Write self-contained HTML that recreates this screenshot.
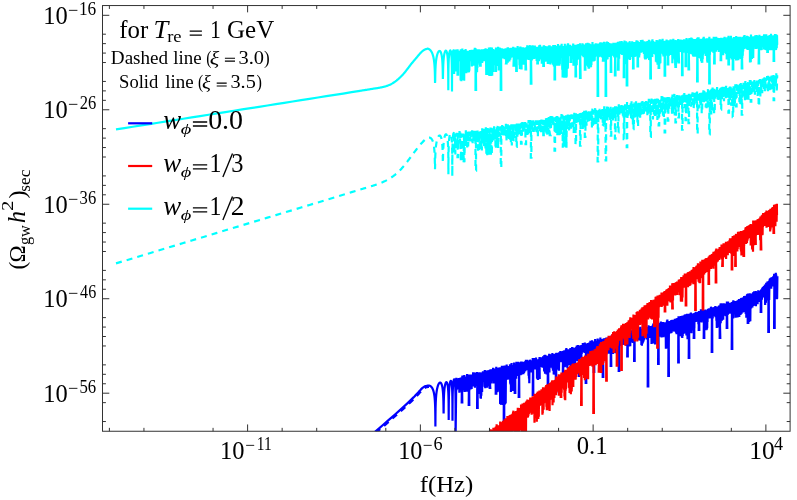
<!DOCTYPE html>
<html><head><meta charset="utf-8"><title>GW spectrum</title>
<style>html,body{margin:0;padding:0;background:#fff;}svg{display:block;will-change:transform;}text{font-family:"Liberation Serif", serif;fill:#000;}</style></head><body>
<svg width="797" height="500" viewBox="0 0 797 500">
<rect width="797" height="500" fill="#fff"/>
<defs><clipPath id="cp"><rect x="102.5" y="5.55" width="687.6" height="425.7"/></clipPath></defs>
<g clip-path="url(#cp)" fill="none" stroke-width="2.2" stroke-linejoin="miter" stroke-miterlimit="3">
<path stroke="#0000ff" d="M375 431.9L379.11 428.34L383.22 424.78L387.33 421.2L391.44 417.61L395.56 413.99L399.67 410.35L403.78 406.64L407.89 402.83L412 398.89L412.5 398.39L413 397.9L413.5 397.41L414 396.91L414.5 396.4L415 395.89L415.5 395.38L416 394.86L416.5 394.33L417 393.8L417.5 393.25L418 392.7L418.5 392.14L419 391.57L419.5 391.01L420 390.45L420.5 389.91L421 389.38L421.5 388.88L422 388.4L422.5 387.96L423 387.55L423.5 387.18L424 386.85L424.5 386.55L425 386.3L425.5 386.1L426 385.96L426.5 385.9L426.6 385.9L426.68 385.87L426.76 385.85L426.84 385.82L426.92 385.8L427 385.78L427.08 385.76L427.16 385.74L427.24 385.72L427.32 385.7L427.4 385.68L427.48 385.67L427.56 385.65L427.64 385.64L427.72 385.63L427.8 385.62L427.88 385.61L427.96 385.6L428.04 385.59L428.12 385.59L428.2 385.58L428.28 385.58L428.36 385.58L428.44 385.58L428.52 385.58L428.6 385.58L428.68 385.58L428.76 385.59L428.84 385.6L428.92 385.6L429 385.61L429.08 385.63L429.16 385.64L429.24 385.66L429.32 385.67L429.4 385.69L429.48 385.71L429.56 385.74L429.64 385.76L429.72 385.79L429.8 385.82L429.88 385.85L429.96 385.88L430.04 385.92L430.12 385.95L430.2 385.99L430.28 386.04L430.36 386.08L430.44 386.13L430.52 386.18L430.6 386.23L430.68 386.29L430.76 386.35L430.84 386.41L430.92 386.47L431 386.54L431.08 386.61L431.16 386.69L431.24 386.77L431.32 386.85L431.4 386.93L431.48 387.02L431.56 387.11L431.64 387.21L431.72 387.31L431.8 387.42L431.88 387.53L431.96 387.65L432.04 387.77L432.12 387.89L432.2 388.03L432.28 388.16L432.36 388.31L432.44 388.46L432.52 388.61L432.6 388.78L432.68 388.95L432.76 389.13L432.84 389.31L432.92 389.51L433 389.72L433.08 389.93L433.16 390.16L433.24 390.39L433.32 390.64L433.4 390.9L433.48 391.18L433.56 391.47L433.64 391.78L433.72 392.1L433.8 392.45L433.88 392.82L433.96 393.21L434.04 393.62L434.12 394.07L434.2 394.55L434.28 395.06L434.36 395.62L434.44 396.23L434.52 396.9L434.6 397.63L434.68 398.45L434.76 399.37L434.84 400.43L434.92 401.65L435 403.1L435.08 404.9L435.16 407.22L435.24 410.51L435.32 416.16L435.4 426.6L435.4 426.6L435.48 414.45L435.56 408.73L435.64 405.37L435.72 402.97L435.8 401.1L435.88 399.57L435.96 398.27L436.04 397.14L436.12 396.14L436.2 395.25L436.28 394.44L436.36 393.7L436.44 393.02L436.52 392.39L436.6 391.81L436.68 391.26L436.76 390.75L436.84 390.27L436.92 389.81L437 389.38L437.08 388.98L437.16 388.59L437.24 388.22L437.32 387.88L437.4 387.55L437.48 387.23L437.56 386.93L437.64 386.64L437.72 386.37L437.8 386.11L437.88 385.86L437.96 385.62L438.04 385.39L438.12 385.18L438.2 384.97L438.28 384.77L438.36 384.59L438.44 384.41L438.52 384.24L438.6 384.08L438.68 383.93L438.76 383.79L438.84 383.65L438.92 383.53L439 383.41L439.08 383.3L439.16 383.2L439.24 383.1L439.32 383.02L439.4 382.94L439.48 382.87L439.56 382.8L439.64 382.75L439.72 382.7L439.8 382.66L439.88 382.63L439.96 382.61L440.04 382.6L440.12 382.59L440.2 382.59L440.28 382.6L440.36 382.62L440.44 382.65L440.52 382.69L440.6 382.74L440.68 382.79L440.76 382.86L440.84 382.94L440.92 383.03L441 383.12L441.08 383.23L441.16 383.36L441.24 383.49L441.32 383.64L441.4 383.8L441.48 383.98L441.56 384.17L441.64 384.37L441.72 384.6L441.8 384.84L441.88 385.1L441.96 385.39L442.04 385.7L442.12 386.03L442.2 386.39L442.28 386.78L442.36 387.2L442.44 387.67L442.52 388.17L442.6 388.73L442.68 389.34L442.76 390.01L442.84 390.77L442.92 391.62L443 392.59L443.08 393.71L443.16 395.03L443.24 396.63L443.32 398.65L443.4 401.37L443.48 405.53L443.56 412.3L443.6 412.3L443.64 412.3L443.72 405.13L443.8 400.92L443.88 398.15L443.96 396.08L444.04 394.43L444.12 393.06L444.2 391.89L444.28 390.88L444.36 389.99L444.44 389.19L444.52 388.48L444.6 387.83L444.68 387.24L444.76 386.7L444.84 386.21L444.92 385.76L445 385.34L445.08 384.96L445.16 384.61L445.24 384.29L445.32 383.99L445.4 383.72L445.48 383.48L445.56 383.25L445.64 383.05L445.72 382.87L445.8 382.72L445.88 382.58L445.96 382.46L446.04 382.36L446.12 382.29L446.2 382.23L446.28 382.19L446.36 382.17L446.44 382.17L446.52 382.19L446.6 382.23L446.68 382.3L446.76 382.38L446.84 382.49L446.92 382.63L447 382.79L447.08 382.97L447.16 383.18L447.24 383.43L447.32 383.7L447.4 384.01L447.48 384.36L447.56 384.76L447.64 385.2L447.72 385.69L447.8 386.25L447.88 386.88L447.96 387.6L448.04 388.42L448.12 389.37L448.2 390.48L448.28 391.82L448.36 393.47L448.44 395.59L448.52 398.54L448.6 403.3L448.68 416.45L448.7 420L448.76 407.39L448.84 400.4L448.92 396.67L449 394.1L449.08 392.16L449.16 390.59L449.24 389.28L449.32 388.17L449.4 387.21L449.48 386.36L449.56 385.61L449.64 384.95L449.72 384.35L449.8 383.82L449.88 383.34L449.96 382.92L450.04 382.54L450.12 382.21L450.2 381.92L450.28 381.67L450.36 381.45L450.44 381.27L450.52 381.13L450.6 381.02L450.68 380.95L450.76 380.92L450.84 380.92L450.92 380.95L451 381.03L451.08 381.15L451.16 381.31L451.24 381.51L451.32 381.77L451.4 382.08L451.48 382.44L451.56 382.87L451.64 383.38L451.72 383.97L451.8 384.66L451.88 385.48L451.96 386.45L452.04 387.61L452.12 389.04L452.2 390.86L452.28 393.3L452.36 396.92L452.44 403.79L452.5 420.7L452.52 412.95L452.6 399.7L452.68 394.84L452.76 391.81L452.84 389.6L452.92 387.89L453 386.49L453.08 385.32L453.16 384.32L453.24 383.47L453.32 382.73L453.4 382.08L453.48 381.53L453.56 381.05L453.64 380.64L453.72 380.29L453.8 380L453.88 379.77L453.96 379.6L454.04 379.48L454.12 379.41L454.2 379.4L454.28 379.45L454.36 379.55L454.44 379.72L454.52 379.95L454.6 380.24L454.68 380.62L454.76 381.08L454.84 381.64L454.92 382.31L455 383.12L455.08 384.09L455.16 385.29L455.24 386.78L455.32 388.71L455.4 391.36L455.48 395.46L455.56 404.41L455.6 433L455.64 433L456.3 377.77L456.57 390.33L456.74 379.77L456.87 388.39L457.06 380.07L457.33 389.07L457.45 379.71L457.68 389.19L457.92 379.69L458.09 389.24L458.22 378.46L458.56 388.49L458.76 377.96L458.87 388.12L459.12 378.95L459.38 392.8L459.56 378.78L459.63 391.84L459.87 378.59L460.07 389L460.36 378.88L460.52 391.43L460.64 377.53L460.82 389.05L461.18 378.66L461.25 389.52L461.49 378.31L461.68 386.47L461.96 377.29L461.7 402.4L462.3 402.4L462.09 388.37L462.36 375.68L462.54 390.41L462.65 375.47L462.92 390.12L463.05 377.78L463.24 389.26L463.56 378.19L463.7 390.46L463.85 376.71L464.11 388.85L464.32 375.03L464.55 392.03L464.73 376.52L464.92 386.65L465.06 378.09L465.27 391.81L465.51 377.54L465.69 389.58L465.91 377.21L466.18 388.74L466.37 377.75L466.51 388.81L466.76 376.51L466.96 390.98L467.07 373.91L467.24 391.68L467.5 375.51L467.77 383.87L467.85 376.36L468.07 388.17L468.38 375.56L468.45 387.35L468.78 374.54L468.87 390.67L468.7 405L469.3 405L469.13 375.88L469.38 390.4L469.47 376.32L469.7 388.19L469.99 375.93L470.07 385.49L470.26 376.03L470.54 389.38L470.77 374.5L470.91 384.49L471.05 374.4L471.33 387.37L471.45 374.7L471.64 389.02L471.89 374.4L472.18 383.93L472.36 374.67L472.5 384.58L472.65 374.81L472.86 386.56L473.12 372.3L473.32 384.81L473.52 372.17L473.66 385.47L473.96 374.25L474.13 383.07L474.36 375.05L474.51 385.46L474.65 374.86L474.93 387.77L475.11 373.34L475.24 384.22L475.45 372.61L475.71 385.69L475.98 374.64L476.11 383.53L476.34 374.41L476.53 382.15L476.68 374.59L476.89 383.88L477.04 372.09L477.26 381.52L477.1 408L477.7 408L477.52 373.69L477.74 383.21L477.86 372.71L478.15 380.54L478.34 372.6L478.59 382.53L478.78 373.08L478.92 392.43L479.14 374.81L479.26 393.92L479.59 372.32L479.79 389.8L479.93 372.57L480.09 393.97L480.34 374.94L480.51 398.12L480.74 373.6L480.91 398.85L481.09 372.44L481.31 395.64L481.58 374.52L481.78 389.16L481.89 372.92L482.1 391.91L482.32 373.9L482.51 381.06L482.7 371.68L482.93 379.79L483.06 371.34L483.25 381.32L483.48 372.01L483.8 379.49L483.97 372.28L484.13 381.98L484.27 372.37L484.61 386.61L484.79 370.12L485 387.26L485.14 372.37L485.29 388.21L485.48 371.35L485.77 387.23L485.87 370.56L486.14 386.83L486.37 371.84L486.54 382.25L486.78 372.41L487 385.92L487.06 371.12L487.27 387.69L487.47 371.53L487.7 382.03L487.94 370.22L488.12 384.98L488.32 370.59L488.56 386.17L488.67 371.34L488.87 381.15L489.07 370.72L489.39 380.41L489.51 369.97L489.75 382.86L490 369.53L489.7 388L490.3 388L490.08 384.93L490.26 370.13L490.49 380.36L490.71 370.64L490.94 380.63L491.09 369.34L491.37 380.69L491.55 370.94L491.78 383.44L491.88 370.66L492.09 381.31L492.36 369.22L492.52 379.38L492.81 368.99L492.98 379.34L493.08 367.75L493.27 379.09L493.51 368.81L493.78 378.52L493.95 370.27L494.09 383.53L494.26 369.79L494.54 380.69L494.81 369.24L494.95 383.38L495.21 368.47L495.33 379.51L495.62 368.9L495.74 393.91L495.99 369.65L495.7 393.6L496.3 393.6L496.1 388.92L496.27 366.87L496.57 387.83L496.68 368.68L496.99 391.75L497.21 369.79L497.31 392.27L497.51 367.76L497.75 391.83L497.97 369.96L498.07 390.56L498.36 367.7L498.49 384.54L498.67 370.13L498.91 389.26L499.13 367.49L499.32 382.49L499.58 367.76L499.74 384.16L499.92 368.76L500.14 403.95L500.35 367.26L500.59 403.92L500.72 368.81L500.99 404.87L501.17 367.81L501.4 403.96L501.53 368.41L501.69 404.44L501.88 365.66L502.15 404.97L502.42 368.67L502.51 403.04L502.73 367.84L502.99 404.58L503.13 366.65L503.41 403.61L503.47 367.1L503.81 403.27L503.91 365.69L503.7 427L504.3 427L504.22 403.19L504.39 366.78L504.6 403.01L504.74 365.46L504.91 404.51L505.12 366.82L505.41 403.25L505.53 367.22L505.67 403.42L505.97 367.53L506.17 375.21L506.36 366.81L506.48 379.08L506.7 364.57L506.99 379.17L507.16 367.18L507.38 375.83L507.48 365.9L507.76 379.62L507.91 366L508.1 375.77L508.29 366.95L508.48 379.02L508.71 366.53L508.99 375.62L509.16 366.37L509.36 377.62L509.53 366.55L509.71 376.17L509.96 364.27L510.2 383.55L510.35 367.78L510.48 384.55L510.82 367.92L510.95 392.06L511.09 366.85L511.41 386.22L511.53 362.98L511.69 388.02L512.02 365.01L512.13 385.43L512.31 365.16L512.55 388.2L512.68 366.53L512.91 391.07L513.18 366.45L513.33 388.54L513.48 365.69L513.72 386.03L514.03 362.45L514.19 384.51L514.37 365.2L514.48 375.74L514.83 363.84L514.96 376.25L514.7 393L515.3 393L515.16 365L515.4 377.48L515.59 363.78L515.81 372.87L515.9 363.59L516.17 378.82L516.41 361.76L516.53 375.47L516.7 365.01L516.91 374.86L517.1 361.9L517.35 376.03L517.57 364.81L517.69 373.56L517.88 363.61L518.09 374.32L518.32 361.73L518.53 374.11L518.8 363.1L519 374.44L518.7 397L519.3 397L519.1 363.65L519.36 370.62L519.58 363.98L519.81 371.92L519.94 362.58L520.13 372.14L520.35 363.07L520.55 375.18L520.78 362.39L521.04 372.31L521.18 361.5L521.38 374.67L521.57 361.4L521.74 372.93L522.02 362.37L522.11 371.03L522.4 362.66L522.6 371.94L522.69 361.86L522.96 374.04L523.2 362.8L523.37 374.16L523.54 362.38L523.73 371.03L523.89 361.67L524.1 372.87L524.44 361.68L524.58 368.66L524.81 362.29L524.89 371.51L525.1 361.38L525.35 371.39L525.62 361.75L525.73 368.41L525.92 359.79L526.22 369.02L526.43 361.68L526.64 370.29L526.7 362.02L526.96 369.33L527.12 359.84L527.42 369.7L527.54 360.73L527.72 368.87L528.02 360.61L528.16 369.96L528.3 361.34L528.55 375.85L528.77 361.57L529 378.56L529.14 362.4L529.29 383.27L529.58 360.94L529.82 369.78L529.92 359.64L530.19 372.48L530.41 360.86L530.64 369.61L530.7 361.07L531 372.42L531.18 360.69L531.32 369.92L531.56 360.64L531.69 371.3L531.89 360.67L532.09 369.27L532.36 360.06L532.58 367.64L532.73 358.1L532.97 369.88L532.7 395L533.3 395L533.17 359.62L533.34 367.45L533.56 359.54L533.77 367.24L533.96 360.06L534.1 368.89L534.41 359.74L534.61 367.48L534.74 357.89L534.97 369.38L535.21 359.53L535.31 367.92L535.63 359.87L535.81 368.12L536.05 357.43L536.17 368.74L536.34 359.73L536.52 366.35L536.83 360.18L537.01 378.77L537.16 360.53L537.33 375.31L537.62 359.27L537.85 379.95L538.04 359.23L538.14 379.86L538.4 359.29L538.58 376.53L538.71 360.03L538.98 365.33L539.24 358.79L539.3 365.07L539.1 378L539.7 378L539.51 357.04L539.75 365.44L539.9 358.24L540.13 366.03L540.44 357.69L540.53 366.13L540.8 358.57L541 366.97L541.13 357.27L541.4 366.25L541.52 357.62L541.81 365.33L542.05 357.59L542.15 364.71L542.31 357.47L542.51 367.79L542.81 357.89L542.98 366.83L543.1 356.3L543.37 365.14L543.64 357.08L543.76 367.34L543.97 356.98L544.15 371.47L544.37 355.13L544.53 368.73L544.72 357.39L545.05 373.69L545.18 354.79L545.35 368.46L545.54 357.06L545.82 370.33L545.95 355.44L546.22 367.55L546.34 356.86L546.57 374.38L546.83 356.22L547.04 368.65L547.25 356.19L547.38 369.84L547.62 357.2L547.77 370.31L547.92 355.73L547.7 385L548.3 385L548.19 368.07L548.36 356.86L548.52 369.42L548.76 355.43L548.96 369.08L549.2 353.66L549.43 372.39L549.6 353.98L549.79 364.91L549.93 355.61L550.12 364.6L550.34 355.86L550.62 367.31L550.75 355.41L551.03 367.66L551.21 354.39L551.44 364.08L551.56 355.82L551.83 365.95L552 354.39L552.15 364.3L552.39 353.01L552.66 368.88L552.84 354.52L552.92 370.63L553.13 355.49L553.31 368.96L553.54 354.06L553.74 374.61L554.05 354.31L554.15 369.35L554.38 354.31L554.55 362.17L554.79 353.97L555.07 364.26L555.24 353.89L555.31 362.33L555.66 354.14L555.74 362.81L555.95 353.46L555.7 392L556.3 392L556.14 363.84L556.45 352.79L556.63 359.61L556.81 353.43L556.99 360.01L557.17 353.26L557.47 360.5L557.57 353.52L557.76 369.29L558.03 353.71L558.26 365.48L558.38 353.44L558.57 370.3L558.74 352.64L558.98 370.7L559.21 352.15L559.42 361.97L559.56 352.33L559.72 359.19L559.96 352.54L560.19 360.18L560.32 351.11L560.52 360.87L560.86 351.97L560.92 361.91L561.12 352.13L561.4 362.15L561.55 351.14L561.78 359.04L561.98 351.91L562.27 359.97L562.43 351.15L562.65 359.35L562.8 351.42L562.93 361.78L562.7 381L563.3 381L563.2 351.1L563.33 367.27L563.62 350.71L563.75 362.92L564 351.48L564.18 365.17L564.38 350.31L564.68 367.18L564.87 351.46L564.98 362.91L565.2 351.31L565.34 366.61L565.57 350.23L565.87 365.67L565.92 349.24L566.21 363.42L566.35 348.01L566.56 362.59L566.81 350.68L566.96 361.97L567.25 349.37L567.4 368.33L567.64 350.35L567.78 363.64L567.99 350.55L568.21 360.7L568.46 350.06L568.6 361.14L568.88 350.08L568.99 365.13L569.17 349.33L569.45 361.78L569.57 349.81L569.87 360.16L569.99 349.53L570.21 360.77L570.36 347.97L570.59 361.71L570.87 349.79L570.96 361.78L570.7 388L571.3 388L571.13 348.27L571.43 363.22L571.67 348.55L571.74 361.72L572.08 346.97L572.15 355.3L572.35 348.76L572.67 356.59L572.77 348.55L573.05 357.75L573.21 347.5L573.48 368.35L573.62 349.55L573.76 371.43L574.02 350.14L574.29 372.75L574.41 349.17L574.56 371.25L574.89 349.64L575.04 370.05L575.22 348L575.42 360.68L575.6 347.8L575.75 356.85L575.94 347.3L576.16 357.05L576.37 346.67L576.6 358.49L576.81 345.4L576.97 360.01L577.24 347.73L577.45 361.17L577.63 347.12L577.83 359.75L577.94 345.12L578.19 355.36L578.39 345.74L578.55 355.81L578.8 346.8L578.98 354.65L578.7 376L579.3 376L579.27 346.83L579.43 358.27L579.59 346.84L579.78 355.63L579.96 346.18L580.17 354.84L580.42 345.19L580.58 356.99L580.77 346.39L580.97 358.7L581.19 345.53L581.35 356.9L581.59 345.1L581.75 353.98L582.01 345.88L582.28 352.3L582.39 345.69L582.69 352.14L582.81 342.97L583.01 351.72L583.16 342.95L583.45 351.54L583.69 344.33L583.77 351.7L583.96 343.48L584.19 350.56L584.44 344.09L584.59 352.93L584.82 342.55L585.03 351.59L585.3 344.32L585.5 351.18L585.7 343.7L585.87 353.55L585.7 383L586.3 383L586 344.24L586.18 353.88L586.37 343.71L586.63 350.72L586.86 344.08L586.95 356.11L587.21 344.02L587.44 354.39L587.57 342.93L587.82 355.22L588.03 343.68L588.2 352.8L588.42 343.21L588.6 351.97L588.76 343.29L588.96 356.78L589.23 342.44L589.5 355.86L589.56 343.12L589.88 354.51L589.98 342.6L590.3 351.88L590.39 340.81L590.7 354.64L590.9 341.09L590.98 352.18L591.28 341.26L591.4 352.7L591.57 342.77L591.79 352.23L592.03 340.3L592.28 353.56L592.39 342.8L592.6 352.7L592.88 341.98L593 353.61L593.23 341.44L593.36 349.67L593.65 342.42L593.85 351.68L593.7 372L594.3 372L594.05 342.39L594.2 356.69L594.43 342.23L594.62 352.25L594.81 340.71L594.99 350.79L595.16 339.09L595.39 354.28L595.58 341.83L595.79 356.99L595.96 341.13L596.22 353.81L596.42 340.72L596.67 354.63L596.84 341.47L596.97 354.61L597.22 341.23L597.36 353.68L597.63 338.56L597.76 352.38L598.1 341.81L598.25 354.71L598.45 341.05L598.68 355.31L598.76 340.65L599.01 353.31L599.26 340.89L599.41 354.22L599.59 339.46L599.78 351.51L600.1 339.78L600.24 351.29L600.36 337.48L600.69 353.71L600.85 339.07L601.08 357.42L601.25 339.66L601.39 353.78L601.71 340.02L601.91 359.05L602.09 339.62L602.17 356.96L602.37 339.81L602.61 346.18L602.82 339.48L602.7 377L603.3 377L603.1 347.91L603.17 338.86L603.39 347.89L603.71 338.71L603.83 346.56L604.09 338.19L604.28 347.02L604.37 338.41L604.66 349.52L604.82 338.56L604.97 345.46L605.31 338.21L605.43 348.69L605.64 338.01L605.79 345.72L606.04 338.21L606.23 354.78L606.4 337.4L606.68 349.51L606.82 338.68L606.97 351.94L607.31 339.09L607.52 348.36L607.58 338.49L607.92 348.56L608.05 338.08L608.18 352.18L608.37 337.32L608.56 349.05L608.8 337.38L609.07 353.71L609.18 337.88L609.44 352.47L609.57 337.45L609.92 349.48L610.02 336.77L610.26 347.25L610.46 336.87L610.57 352.91L610.77 336.93L610.7 366L611.3 366L611.05 345.48L611.18 337.4L611.49 348.76L611.6 335.41L611.86 349.49L612.09 336.45L612.22 348.77L612.47 334.62L612.67 350.61L612.85 335.64L613.04 353.97L613.27 337.67L613.45 350.14L613.6 334.24L613.87 347.68L614.02 336.06L614.32 346.71L614.39 337.36L614.69 347.39L614.9 336.48L615.11 353.09L615.28 334.53L615.39 350.75L615.6 334.91L615.8 353.35L615.99 335.19L616.32 347.47L616.39 336.24L616.73 345.08L616.87 334.89L617 346.59L617.21 334.63L617.44 344.45L617.66 332.72L617.79 346.86L618.13 334.43L618.22 348.46L618.53 334.8L618.64 342.82L618.91 335.01L618.98 343L618.7 371L619.3 371L619.26 334.29L619.38 347.96L619.72 332.68L619.85 345.41L619.98 332.22L620.3 345.66L620.5 334.35L620.65 342.47L620.92 334.99L621.03 345.86L621.24 333.56L621.48 344.24L621.7 333.64L621.84 344.93L621.99 334.51L622.22 344.88L622.47 333.95L622.67 344.93L622.8 332.56L623.1 341.52L623.22 333.38L623.51 341.39L623.64 333.5L623.88 344.01L624.12 331.44L624.32 344.84L624.43 332.62L624.64 340.33L624.91 332.83L625.05 340.86L625.33 332.99L625.41 344.2L625.72 332.44L625.85 342.64L626.11 333.12L626.31 345.98L626.47 332.12L626.74 343.47L626.94 332.54L627.11 342.44L627.31 333.26L627.42 341.19L627.2 356.5L627.8 356.5L627.71 332.41L627.89 342.01L628.13 332.29L628.28 343.68L628.52 332.06L628.62 341.99L628.83 332.01L629.04 346.4L629.24 331.82L629.52 342.6L629.68 332.57L629.94 345.25L630.04 333.31L630.26 346.29L630.47 332.76L630.59 342.82L630.79 332.38L631.02 339.39L631.27 331.72L631.39 339.63L631.61 331.6L631.93 340.88L632.06 330.55L632.19 342.59L632.4 329.63L632.59 340.97L632.8 329.35L633.11 342.99L633.27 331.63L633.43 341.73L633.61 331.16L633.92 341.49L634.01 331.14L634.26 344.34L634.1 361L634.7 361L634.54 330.51L634.61 340.95L634.91 330.38L635.13 337.92L635.19 330.67L635.43 336.91L635.65 328.05L635.94 338.8L636.1 328.95L636.35 336.86L636.45 328.9L636.65 337.03L636.9 328.17L637.06 338.22L637.33 330.49L637.43 337.53L637.74 330.12L637.84 340.44L638.01 330.33L638.28 337.33L638.52 329.74L638.67 338.02L638.86 329.95L639.02 339.98L639.3 327.32L639.54 340.39L639.62 327.54L639.89 339.41L640.08 329.69L640.29 338.22L640.51 326.83L640.7 340.71L640.93 328.76L641.04 338.66L641.26 329.38L641.4 344.94L641.73 330.42L641.94 345.65L642.12 330.08L642.3 342.5L642.4 329.98L642.69 343.37L642.92 329.79L643.07 342.35L643.25 327.9L643.48 341.63L643.74 328.72L643.83 340.11L644.11 328.4L644.31 338.02L644.45 328.37L644.65 336.73L644.92 327.23L645.03 338.32L645.25 328.11L645.47 338.06L645.6 328.25L645.91 335.35L646.1 327.81L646.29 335.41L646.49 327.53L646.61 339.55L646.83 327.98L647.01 337.9L647.28 327.19L647.41 335.19L647.7 327.62L647.94 335.25L647.7 386.5L648.3 386.5L648.07 326.93L648.27 335.04L648.52 325.33L648.62 336.2L648.91 327.1L649.1 336.18L649.26 326.35L649.49 336.82L649.64 326.1L649.81 338.04L650.16 327.14L650.35 335.99L650.53 327.07L650.64 333.27L650.84 326.44L651.12 334.37L651.33 327.14L651.53 344.07L651.62 326.02L651.86 342.67L652.16 325.77L652.23 343.58L652.45 326.65L652.71 342.25L652.93 325.18L653.07 338.43L653.25 323.57L653.48 338.35L653.63 325.31L653.88 342.89L654.04 326.75L654.23 341.59L654.53 324.79L654.71 343.94L654.85 325.76L655.06 344.41L655.32 325.25L655.48 338.39L655.62 326.28L655.83 338.49L656.05 325.46L656.31 337.42L656.56 326.13L656.74 337.18L656.82 324.4L657.06 341.19L657.36 324.32L657.52 343.82L657.76 324.09L657.91 336.55L658.08 325.89L658.3 334.63L658.1 364L658.7 364L658.51 322.72L658.64 331.48L658.94 323.41L659.05 334.11L659.26 323.66L659.46 334.63L659.65 323.83L659.86 333.77L660.14 323.13L660.25 334.98L660.47 323.5L660.65 336.65L660.86 321.45L661.15 336.34L661.37 323.37L661.49 337.48L661.68 323.29L661.96 334.84L662.06 323.24L662.28 336.49L662.56 323.16L662.7 336.1L662.86 321.9L663.1 336.74L663.21 322.58L663.51 337.28L663.77 322.48L663.89 332.13L664.17 322.48L664.24 335.99L664.46 322.32L664.69 332.15L664.87 322.51L665.08 331.89L665.33 322.91L665.52 330.71L665.66 322.29L665.89 348.77L666.13 324.38L666.25 348.49L666.46 323.14L666.62 338.76L666.96 320.43L667.09 345.23L667.36 319.59L667.55 343.66L667.71 322.48L667.86 341.07L668.11 323.1L668.23 342.87L668.55 323.8L668.3 376L668.9 376L668.77 347.18L668.98 322.1L669.17 331.73L669.22 321.24L669.55 333.23L669.71 321.02L669.96 333.12L670.14 321.66L670.22 333.46L670.58 321.73L670.63 329.86L670.9 321.27L671.13 330.56L671.26 320.05L671.5 333.14L671.62 320.81L671.85 330.63L672.06 321.22L672.31 329.04L672.46 319.7L672.75 328.17L672.89 320.8L673.18 331.6L673.25 319.84L673.47 330.15L673.73 320.11L673.9 330.85L674.17 319.83L674.32 330.91L674.52 320L674.72 329.44L674.85 318.71L675.11 330.86L675.24 319.23L675.44 331.63L675.72 319.54L675.89 332.25L676.18 318.58L676.25 333.19L676.55 320.01L676.67 334.3L676.93 318.78L677.14 331.92L677.31 317.99L677.52 333.2L677.68 318.5L677.84 329.52L678.08 318.99L678.3 333.53L678.2 362.5L678.8 362.5L678.51 316.17L678.77 329.66L678.83 319.2L679.18 332.74L679.27 316.48L679.43 335.35L679.67 318.74L679.96 332.21L680.06 317.92L680.28 334.27L680.58 319.16L680.78 336.33L680.85 316.01L681.12 334.18L681.35 317.84L681.53 333.39L681.66 317.23L681.96 337.44L682.04 315.64L682.32 338.05L682.56 317.84L682.71 336.03L682.86 317.04L683.1 333.91L683.34 315.5L683.48 333.88L683.77 318.04L683.86 332.91L684.09 317.14L684.27 333.39L684.53 314.87L684.68 330.32L684.95 317.45L685.09 333.59L685.37 314.18L685.48 331.65L685.65 318.34L685.89 332.62L686.11 314.39L686.39 335.49L686.56 317.74L686.67 335.16L686.98 313.73L687.05 334.21L687.26 315.29L687.55 339.24L687.72 316.01L687.95 330.63L688.09 313.64L688.4 335.68L688.53 313.75L688.7 328.17L688.99 316.01L688.7 358L689.3 358L689.18 332.84L689.25 316.24L689.59 331.77L689.65 316.48L689.92 330.96L690.15 313.49L690.27 332.73L690.46 315.31L690.66 328.8L690.89 312.42L691.14 332.41L691.26 315.86L691.51 333.22L691.69 315.95L691.94 328.69L692.13 314.13L692.26 328.21L692.47 313.57L692.78 330.47L692.93 314.71L693.18 327.51L693.3 315.27L693.59 329.03L693.78 313.23L693.88 331.98L693.7 338L694.3 338L694.19 313.29L694.37 328.16L694.58 313.06L694.67 319.98L694.94 313.01L695.07 321.3L695.38 313.1L695.57 322.07L695.68 311.79L695.92 320.6L696.17 312.37L696.25 321.76L696.46 313.1L696.71 319.21L696.99 312.51L697.08 320.8L697.38 312.88L697.46 318.73L697.78 313.12L697.91 320.65L698.11 311.94L698.38 324.12L698.51 312.17L698.73 320.38L698.87 310.9L698.7 330L699.3 330L699.17 319.35L699.26 311.74L699.48 320.16L699.74 311.84L699.93 322.1L700.1 311.5L700.41 321L700.51 311.55L700.67 321.04L700.89 309.36L701.09 320.86L701.32 312.22L701.59 322.56L701.8 311.87L701.98 319.34L702.14 311.58L702.26 318.21L702.56 311.32L702.77 320.79L702.93 309.63L703.1 318.69L703.39 310.14L703.5 316.74L703.8 310L703.89 318.29L703.7 338L704.3 338L704.18 311.1L704.29 320.67L704.54 310.17L704.7 320.16L704.9 309.87L705.1 319.55L705.3 310.43L705.55 319.8L705.7 309.44L705.89 316.53L706.19 310.48L706.31 330.2L706.47 310.91L706.81 329.86L707.01 311.25L707.21 328.31L707.33 310.37L707.55 322.02L707.66 310.22L707.96 316.12L708.12 308.7L708.35 317.55L708.48 309.16L708.73 316.09L708.89 308.86L709.21 317.42L709.27 308.33L709.61 318.52L709.73 308.6L709.93 315.65L710.17 308.32L710.31 316.17L710.54 309L710.77 317.67L710.93 306.65L711.2 315.39L711.39 307.88L711.54 314.6L711.66 308.21L711.89 316.53L711.7 352L712.3 352L712.15 308.47L712.33 315.05L712.51 307.39L712.74 318.42L712.87 307.6L713.15 315.6L713.3 307.61L713.5 316.02L713.68 307.51L713.91 315.29L714.09 307.27L714.31 314.42L714.54 306.91L714.72 316.26L714.88 307.79L715.18 313.84L715.32 306L715.52 317.12L715.68 307.38L716.01 314.33L716.11 307.16L716.39 320.78L716.57 307.05L716.79 327.93L716.88 308.62L717.17 321.6L717.33 306.92L717.54 327.56L717.69 306.39L717.94 326.87L718.13 307.07L718.27 325.5L718.56 307.77L718.73 322.01L719.01 305.47L719.19 325.09L719.39 306.55L719.48 324.3L719.68 306.27L719.7 338L720.3 338L720.02 326.12L720.2 305.18L720.28 320.3L720.55 303.55L720.71 323.35L721.02 306.82L721.23 317.39L721.29 303.16L721.52 319.07L721.81 305.87L721.92 320.74L722.13 304.59L722.36 317.39L722.56 305.1L722.75 317.97L722.96 303.61L723.19 319.62L723.37 305.57L723.51 312.16L723.68 303.31L723.94 315.1L724.15 304.86L724.37 314.71L724.6 304.16L724.76 313.17L724.92 304.02L725.11 315.66L725.41 303.63L725.62 315.13L725.82 304.16L725.89 316.21L726.22 304.27L726.35 312.12L726.63 303.95L726.68 314.21L726.92 301.56L726.7 328L727.3 328L727.16 313.77L727.42 303.91L727.52 311.35L727.75 301.42L727.92 314.78L728.22 301.88L728.4 312.03L728.54 303.8L728.74 312.27L728.9 303.13L729.22 311.42L729.29 302.99L729.56 313.83L729.81 303.05L729.94 313.52L730.16 303.25L730.36 310.21L730.51 303.06L730.72 311.74L731.03 303.48L731.23 310.73L731.4 302.7L731.54 310.38L731.75 301.95L731.95 310.54L731.7 349L732.3 349L732.12 302.95L732.3 314.32L732.53 302.11L732.7 313.77L732.98 301.59L733.21 318.59L733.34 300.37L733.55 312.52L733.69 301.59L733.99 313.27L734.18 301.3L734.41 313.09L734.54 301.05L734.76 314.53L735.04 302.32L735.16 312.72L735.38 302.78L735.54 317.8L735.73 301.96L735.95 311.98L736.13 302.08L736.44 316.49L736.57 301.03L736.75 310.73L736.98 301.49L737.12 316.85L737.44 300.78L737.51 317.5L737.68 300.21L738.01 315.41L738.14 300.95L738.28 310.97L738.58 299.99L738.75 311.13L738.95 299.02L738.7 316L739.3 316L739.18 311.05L739.38 300.29L739.53 312.65L739.73 299.2L739.9 314.93L740.16 300.09L740.33 312.64L740.59 300.94L740.73 314.82L740.95 298.21L741.14 310.43L741.35 298.1L741.62 313.74L741.75 297.84L741.91 308.79L742.11 298.61L742.32 309.38L742.6 298.38L742.82 312.55L742.9 299.72L743.15 309.64L743.38 297.21L743.59 308.54L743.75 297.62L744.05 310.52L744.15 296.13L744.29 312.07L744.62 297.18L744.83 309.2L745.01 295.91L745.23 309.98L745.44 295.78L745.59 313.85L745.73 296.87L745.9 312.52L746.24 297.3L746.3 317.83L746.59 296.6L746.84 311.93L747.04 294.36L747.11 312.1L747.42 296.65L747.54 303.24L747.73 293.75L747.7 323L748.3 323L748.02 305.7L748.24 293.57L748.41 303L748.64 293.91L748.75 303.62L748.97 295.07L749.16 322.1L749.36 297.08L749.56 320.44L749.78 293.36L749.98 315.28L750.17 296.74L750.32 321.3L750.56 295.97L750.78 306.91L751.03 294.48L751.19 308.36L751.42 293.64L751.5 305.13L751.78 294.01L751.96 303.16L752.19 294.32L752.44 307.61L752.57 293.3L752.82 304.62L753.05 292.16L753.19 306.07L753.44 293.85L753.6 304.74L753.73 293L753.93 302.73L754.2 291.24L754.32 304.35L754.59 293.52L754.79 305.67L754.97 293.71L755.19 303.92L755.4 293.43L755.58 303.67L755.81 290.95L755.95 306.34L756.19 292.61L756.33 301.13L756.61 293.51L756.8 302.78L756.92 292.93L757.22 304.13L757.37 291.72L757.57 304.23L757.79 292.61L758.04 298.99L758.25 290.29L758.38 299.58L758.59 291.1L758.79 300.61L759.04 292.01L759.19 301.93L759.41 290.98L759.66 300.14L759.73 291.44L759.92 301.16L760.2 291.02L760.33 297.78L760.55 290.69L760.76 296.7L760.93 290.06L760.7 312L761.3 312L761.26 297.67L761.36 289.21L761.62 296.45L761.77 289.7L761.96 299.69L762.26 288.08L762.32 295.24L762.53 287.64L762.86 294.36L763.05 287.06L763.13 294.15L763.34 286.98L763.57 295.66L763.82 286.15L764.04 297.12L764.24 286.17L764.42 294.2L764.63 285.88L764.75 297.9L764.93 284.46L765.16 304.92L765.32 285.29L765.51 297.73L765.78 285.42L765.95 302.88L766.21 282.7L766.35 300.37L766.54 283.54L766.81 296.07L767 283.61L767.15 296.24L767.41 281.51L767.52 295.01L767.85 282.26L768.04 293.96L768.11 281.85L768.38 300.52L768.52 281.21L768.3 332L768.9 332L768.76 294.58L768.93 281.03L769.16 299.97L769.45 280.32L769.59 287.38L769.75 278.82L770.02 286.66L770.17 278.41L770.32 288.28L770.58 278.12L770.78 285.91L770.98 277.41L771.26 288.71L771.38 277.91L771.63 284.94L771.78 277.65L772.05 284.56L772.2 277.29L772.34 286.59L772.52 277.01L772.82 283.64L772.93 277.26L773.12 285.66L773.41 276.13L773.66 283.3L773.87 275.85L773.97 282.97L774.18 273.78L774.35 282.53L774.1 328L774.7 328L774.67 275.84L774.83 285.07L775.04 274.99L775.15 284.75L775.33 274.89L775.54 281.84L775.81 272.78L775.95 284.18L776.19 274.6L776.4 298.98L776.54 276.22L776.8 299.13L776.97 276.24L777.12 298.64L777.4 276.22"/>
<path stroke="#0000ff" stroke-dasharray="6 5.1" d="M375.7 433.1L379.81 429.54L383.92 425.98L388.03 422.4L392.14 418.81L396.26 415.19L400.37 411.55L404.48 407.84L408.59 404.03L412.7 400.09L413.2 399.59L413.7 399.1L414.2 398.61L414.7 398.11L415.2 397.6L415.7 397.09L416.2 396.58L416.7 396.06L417.2 395.53L417.7 395L418.2 394.45L418.7 393.9L419.2 393.34L419.7 392.77L420.2 392.21L420.7 391.65L421.2 391.11L421.7 390.58L422.2 390.08L422.7 389.6L423.2 389.16L423.7 388.75L424.2 388.38L424.7 388.05L425.2 387.75L425.7 387.5L426.2 387.3L426.7 387.16L427.2 387.1L427.3 387.1L427.38 387.07L427.46 387.05L427.54 387.02L427.62 387L427.7 386.98L427.78 386.96L427.86 386.94L427.94 386.92L428.02 386.9L428.1 386.88L428.18 386.87L428.26 386.85L428.34 386.84L428.42 386.83L428.5 386.82L428.58 386.81L428.66 386.8L428.74 386.79L428.82 386.79L428.9 386.78"/>
<path stroke="#ff0000" d="M487 434.99L487.19 446.07L487.35 434.89L487.61 447.36L487.82 431.75L488.03 450.01L488.14 433.86L488.44 447.77L488.57 432.87L488.84 450.6L489.05 432.23L489.22 445.74L489.39 432.13L489.68 443.77L489.87 431.63L489.95 444.32L490.22 432.36L490.41 442.8L490.64 429.16L490.87 445.07L490.93 431.11L491.14 444.24L491.34 431.8L491.58 441.22L491.85 429.99L492.08 443.38L492.18 431.32L492.4 443.7L492.55 429.85L492.87 444.79L493.05 430.32L493.16 444.71L493.38 427.66L493.62 444.73L493.73 429.73L494.06 444.09L494.23 428.84L494.33 443.95L494.65 428.1L494.79 443.91L494.93 427.63L495.2 443.18L495.38 428.31L495.61 443.29L495.88 426.63L496.07 444L496.25 426.8L496.4 443.78L496.64 424.27L496.73 444.2L496.7 440L497.3 440L497.04 425.66L497.19 438.38L497.47 426.74L497.68 436.72L497.88 425.31L498.02 439.47L498.28 426.04L498.42 439.8L498.58 426.42L498.8 437.41L499 425.74L499.25 439.61L499.43 425.25L499.67 437.26L499.78 425.37L500.04 443.68L500.2 421.39L500.36 444.63L500.54 424.35L500.83 444.43L501.08 423.86L501.28 444.67L501.46 423.23L501.68 443.81L501.82 422.51L502 444.35L502.29 422.14L502.34 444.03L502.64 421.73L502.81 444.9L502.7 440L503.3 440L503.06 420.93L503.21 444.58L503.38 420.68L503.55 444.29L503.8 421.37L504.09 443.61L504.26 421.34L504.38 443.25L504.55 419.28L504.77 443.78L505.04 419.19L505.16 444.48L505.35 420.36L505.62 443.33L505.78 418.3L505.99 443.03L506.23 420.13L506.42 443.89L506.6 419.15L506.79 444.64L507.01 418.17L507.23 444.85L507.37 415.9L507.65 444.33L507.86 416.9L507.98 443.97L508.26 416.53L508.45 443.53L508.67 416.49L508.84 443.35L508.96 416.14L509.21 443.83L509.42 415.44L509.64 444.03L509.75 416.05L509.94 444.18L509.7 440L510.3 440L510.22 415.08L510.35 443.52L510.61 414.67L510.74 443.62L511.07 415.82L511.16 443.87L511.49 415.01L511.68 443.74L511.8 414.3L512.03 430.12L512.26 414.45L512.45 425.52L512.64 413.49L512.81 428.6L513.07 411.67L513.16 430.14L513.47 410.64L513.58 430.01L513.74 414.06L513.95 430.92L514.17 411.85L514.38 425.36L514.69 413.19L514.84 424.04L515.02 412.38L515.26 444.2L515.49 411.45L515.57 444.53L515.82 412.41L515.7 438L516.3 438L516.07 443.83L516.17 410.89L516.42 443.38L516.65 412.09L516.76 443.66L517.01 410.83L517.25 443.35L517.5 410.97L517.57 443.17L517.79 407.74L518.06 444.17L518.24 410.38L518.47 444.72L518.66 409.63L518.82 444.41L518.99 409.24L519.18 426.54L519.44 407.93L519.66 428.7L519.9 408.29L520.03 424.04L520.26 408.29L520.46 430.69L520.55 408.04L520.85 420.71L521.04 404.51L521.21 418.82L521.4 406.22L521.65 416.64L521.8 406.33L522 436.12L522.21 406.65L522.37 437.12L522.57 403.52L522.77 436.32L522.98 403.7L523.24 437.42L523.41 404.27L523.6 436.59L523.81 404.11L523.99 436.46L523.7 436L524.3 436L524.21 402.68L524.46 436.8L524.55 403.28L524.81 436.17L525.1 402.82L525.22 436.38L525.35 403.36L525.7 437.52L525.88 401.81L525.97 436.94L526.16 403.93L526.42 412.63L526.65 400.8L526.75 415.73L527.1 402.5L527.16 416.89L527.39 399.48L527.55 417.85L527.81 401.1L528 417.26L528.26 401.78L528.42 415.69L528.68 400.42L528.85 413.95L528.99 400.19L529.28 413.3L529.42 400.06L529.57 410.55L529.9 399.7L530.02 410.05L530.24 397.64L530.5 409.59L530.63 399.89L530.81 410.83L531.01 398.81L531.22 412.47L531.47 397.91L531.65 414.73L531.79 398.85L531.97 410.39L532.27 397.76L532.37 413.71L532.59 396.36L532.91 411.51L533 398.21L533.23 410.65L533.5 396.85L533.63 409.09L533.83 396.47L534.1 412.55L534.21 396.21L534.5 422.83L534.58 393.76L534.76 417.14L535.02 395.01L535.31 413.98L535.37 396.89L535.58 418.34L535.77 396.64L536.08 417.24L536.29 396.86L536.5 414.15L536.66 394.09L536.82 421.65L536.97 392.78L537.29 412.03L537.42 396.37L537.7 410.81L537.81 391.43L537.96 409.96L537.7 418L538.3 418L538.23 393.92L538.4 412.15L538.57 392.56L538.81 416.84L538.99 395.11L539.29 405.69L539.44 390.42L539.61 405.91L539.77 392.1L539.97 405.33L540.26 391.79L540.49 400.7L540.59 392.26L540.8 400.49L541 390.78L541.26 405.28L541.51 389.2L541.64 399.86L541.88 391.1L542.07 402.61L542.2 390.86L542.42 414.7L542.62 392.09L542.77 413.21L543 387.22L543.28 407.17L543.46 388.47L543.61 409.66L543.8 388.47L544.04 403.17L544.19 389.59L544.37 400.85L544.57 388.4L544.78 397.84L545.11 387.78L545.16 399.56L545.5 386.48L545.62 402.85L545.77 387.83L546.05 397.8L546.19 385.09L546.41 406.75L546.56 388.96L546.83 410.08L546.7 407L547.3 407L547.06 387.94L547.31 410.29L547.38 384.25L547.66 409.25L547.87 385.05L548.11 409.2L548.3 387.61L548.48 405.51L548.68 385.01L548.89 404.93L549 385.65L549.2 407.45L549.51 383.52L549.6 411.01L549.88 383.05L550.1 400L550.2 383.35L550.47 395.49L550.62 382.83L550.79 399.46L551.06 382.9L551.25 395.94L551.4 381.94L551.65 392.7L551.9 381.28L552.03 395.22L552.24 380.17L552.52 405.35L552.69 380.31L552.79 399.27L552.7 399L553.3 399L553.05 382.11L553.32 401.7L553.47 380.37L553.62 402.46L553.77 381.31L554.06 395.8L554.3 382.29L554.39 397.91L554.62 380.28L554.78 391.35L554.98 380.08L555.23 391.2L555.38 379.64L555.73 391.55L555.8 379.98L556 395.22L556.25 376.45L556.46 389.64L556.69 378.15L556.81 389.43L557.04 377.24L557.26 391.77L557.48 378.33L557.57 391.34L557.84 376.57L558.12 390.64L558.21 378.08L558.4 391.08L558.68 374.29L558.83 395.83L559.09 377.95L559.24 389.85L559.5 374.75L559.72 393.06L559.8 376.55L560 387.91L560.17 375.91L560.48 388.2L560.6 375.01L560.8 386.73L560.7 397L561.3 397L561.06 374.29L561.17 390.72L561.41 372.58L561.67 392.63L561.77 374.93L562.02 388.41L562.25 375.34L562.43 387.3L562.62 373.17L562.81 387.54L563.12 373.14L563.2 384.88L563.41 373.46L563.62 385.68L563.79 372.33L564.12 389.64L564.32 372.93L564.45 396.4L564.71 374.66L564.8 399.61L565.04 370.53L565.26 400.14L565.42 369.83L565.65 390.62L565.86 373.02L566 388.98L566.2 371.38L566.4 381.14L566.65 371.19L566.87 379.6L567.09 370.38L567.28 382.4L567.51 369.61L567.6 382.46L567.93 367.92L568.07 377.57L568.26 368.53L568.47 381.92L568.65 368.94L568.86 387.63L568.99 367.09L569.3 388.11L569.48 371.04L569.6 393.01L569.83 370.04L570.02 389.92L570.21 365.63L570.47 385.85L570.63 365.74L570.85 394.2L571.05 367.5L571.29 391.03L571.42 365.65L571.7 391.59L571.86 367.46L572.08 381.86L572.33 364.38L572.5 382.9L572.68 366.18L572.81 383.79L572.7 386L573.3 386L573.05 363.48L573.31 383.49L573.53 365.69L573.69 377.89L573.89 366.8L574.08 377.56L574.29 365.75L574.4 378.18L574.62 364.29L574.89 379.16L575.08 365.92L575.3 379.61L575.54 363.1L575.73 379.57L575.83 364.53L576.08 376.9L576.22 364.2L576.43 374.68L576.63 363.69L576.9 374.08L577.13 362.77L577.24 372.52L577.54 362.55L577.59 372.26L577.84 363.33L578.08 373.32L578.3 362.82L578.45 372.08L578.62 362.05L578.8 371.37L579.09 359.22L579.3 372.85L579.48 362.05L579.71 375.17L579.94 360.41L580.03 372.39L580.25 358.96L580.5 376L580.59 359.68L580.83 372.78L581.01 361.16L581.34 374.8L581.1 405L581.7 405L581.53 360.59L581.68 374.64L581.82 357.19L582.09 374.48L582.29 360.23L582.54 372.43L582.71 360L582.9 374.71L583.05 356.88L583.26 375.11L583.49 358.12L583.69 372.86L583.93 357.46L584.14 378.03L584.2 359.3L584.54 372.86L584.74 358.65L584.88 380.33L585.04 355.53L585.3 377.2L585.46 356.57L585.62 378.42L585.79 356.71L586.02 378.81L586.27 356.29L586.44 374.44L586.63 358.15L586.86 372.21L587.05 355.82L587.29 371.45L587.52 356.22L587.72 377.89L587.81 353.67L588.12 379.21L588.21 355.27L588.47 362.44L588.75 354.31L588.86 363.51L589.09 354.78L589.22 365.95L589.45 354.13L589.65 363.94L589.87 353.59L590.1 361.62L590.25 351.11L590.49 363.87L590.69 353.5L590.93 365.68L591.04 352.82L591.24 362.36L591.41 353.19L591.66 361.09L591.93 352.54L592.14 365.48L592.32 350.84L592.52 366.81L592.6 350.58L592.95 364.27L593.12 350.43L593.2 363.5L593.54 351.57L593.3 413L593.9 413L593.68 362.34L593.84 351.46L594.12 363.4L594.31 350.48L594.52 365.21L594.7 349.25L594.94 365.29L595.04 349.56L595.27 363.9L595.5 349.97L595.67 365.15L595.92 349.07L596.04 359.57L596.34 348.5L596.45 361.49L596.74 349L596.91 364.02L597.01 346.7L597.28 362.57L597.48 345.98L597.71 361.81L597.82 347.7L598.11 362.87L598.21 348.1L598.4 360.22L598.64 347.46L598.86 363.94L598.7 371.6L599.3 371.6L599.15 346.25L599.34 361.94L599.52 346.53L599.75 362.37L599.87 343.72L600.04 358.64L600.3 344.84L600.47 361.09L600.69 344.24L600.9 359L600.7 372L601.3 372L601.01 342.36L601.25 362.32L601.51 341.89L601.65 360.71L601.87 345.32L602.08 362.72L602.23 343.04L602.41 360.14L602.75 343.35L602.92 364.96L603.11 341.36L603.32 362.87L603.41 344.25L603.63 360.13L603.92 341.98L604.1 361.17L604.29 341.53L604.53 357.38L604.69 341.12L604.85 351.12L605.1 340.82L605.3 354.34L605.54 338.99L605.74 353.55L605.89 341.27L606.03 353.22L606.23 341.22L606.2 380.6L606.8 380.6L606.55 355.44L606.67 337.83L606.95 353.75L607.11 339.79L607.25 348.38L607.54 339.37L607.63 350.18L607.92 338.97L608.09 346.51L608.22 338.24L608.43 350.36L608.61 335.8L608.87 347.19L609.15 335.85L609.29 347.31L609.45 338.01L609.76 347.67L609.92 337.61L610.15 344.33L610.26 336.32L610.46 347.38L610.76 335.78L610.95 347.57L611.02 335.65L611.23 344.27L611.5 336.86L611.64 346.85L611.83 335.26L612.02 348.5L612.35 334.14L612.5 345.64L612.64 335.13L612.81 348.24L613.11 332.04L613.24 348.45L613.55 333.13L613.64 352.97L613.93 335.09L614.15 352.24L614.23 331.17L614.5 347.7L614.72 333.37L614.88 348.54L615.13 333.07L615.23 346.56L615.56 331.68L615.75 348.78L615.88 333.31L616.16 343.28L616.26 333L616.48 345.53L616.66 331.95L616.82 343.08L616.7 365.6L617.3 365.6L617.14 331.07L617.27 348.62L617.44 331.57L617.76 345.79L617.84 329.42L618.07 343.42L618.3 329.62L618.57 337.38L618.73 329.6L618.9 339.57L619.07 328.35L619.26 337.94L619.49 329.39L619.64 340.7L619.96 329.04L620.16 339.51L620.3 328.67L620.46 338.63L620.64 328.07L620.93 336.55L621.02 326.66L621.28 334.75L621.44 325.39L621.2 370L621.8 370L621.77 336.93L621.86 326.62L622.06 334.87L622.22 325.66L622.41 338.43L622.69 325.13L622.88 333.49L623.1 323.88L623.33 332.75L623.5 325.57L623.76 332.95L623.96 324.67L624.05 333.06L624.24 324.2L624.45 339.45L624.73 323.68L624.89 344.93L625.16 325.33L625.36 345.8L625.43 324.29L625.75 338.35L625.94 322.93L626.09 338.44L626.33 323.73L626.47 339.27L626.74 323.86L626.96 343.03L627.07 322.46L627.37 344.39L627.45 322.36L627.68 336.04L627.88 322.84L628.14 337.17L628.25 321.67L628.46 337.05L628.73 320.19L628.92 335.33L629.05 321.27L629.37 335.92L629.49 320.68L629.63 337.93L629.97 319.58L630.15 332.87L630.3 317.36L630.46 330.46L630.76 318.44L630.94 328.46L631.07 318.74L631.23 327.71L631.49 319.22L631.71 325.67L631.91 317.66L632.18 329.19L632.33 317.99L632.44 326.66L632.65 318.23L632.88 335.45L633.04 317.65L633.35 338.87L633.46 314.55L633.7 332.94L633.91 317.67L634.14 335.57L634.24 318.42L634.53 340.25L634.65 315.51L634.9 341.44L634.7 338.6L635.3 338.6L635.16 315.07L635.38 335.05L635.44 316.11L635.66 338.37L635.96 315.55L636.13 334.97L636.33 316.16L636.58 333.66L636.64 312.02L636.94 335.23L637.1 314.98L637.25 341.4L637.56 311.23L637.74 335.23L637.88 314.57L638.06 337.72L638.3 311.74L638.45 320.94L638.78 312.88L638.85 322.32L639.14 313.04L639.23 321.64L639.56 312.54L639.77 321.8L639.91 309.8L640.05 325.1L640.3 310.5L640.54 321.5L640.73 309.72L640.96 321.03L641.18 310.23L641.38 323.67L641.48 308.48L641.78 320.86L641.88 310.88L642.11 323.25L642.36 307.25L642.5 336.29L642.69 307.75L642.93 332.32L643.03 308.56L643.26 334.06L643.5 310.08L643.69 332.2L643.83 306.84L644.03 334.11L644.34 308.65L644.57 333.79L644.65 305.3L644.89 335.93L645.11 306.87L645.31 333.85L645.2 337L645.8 337L645.54 308.85L645.72 324.75L645.87 308.38L646.08 325.42L646.32 308.55L646.53 333.62L646.68 304.86L646.91 315.61L647.12 306.2L647.34 316.22L647.47 303.09L647.76 316.92L647.88 305.66L648.08 319.36L648.35 304.82L648.56 317.29L648.67 305.08L648.83 316.28L649.04 303.58L649.35 313.52L649.56 302.04L649.68 311.85L649.96 302.97L650.15 315.85L650.37 302.45L650.47 318.18L650.71 302.04L650.98 318.75L651.13 300.05L651.24 315.45L651.58 302.85L651.67 314.71L651.95 303.25L652.11 319.39L652.29 302.79L652.57 316.7L652.67 300.59L652.87 313.58L653.07 301.13L653.32 311.88L653.54 299.83L653.72 317.72L653.9 301.39L654.19 327.27L654.27 300.26L654.53 327.23L654.79 299.4L654.92 326.97L655.1 300.59L655.38 318.76L655.6 296.73L655.7 324.78L655.99 298.03L656.12 321.6L656.33 296.39L656.47 323.58L656.74 298.06L656.85 320.97L657.07 298.45L657.37 316.4L657.2 347.6L657.8 347.6L657.57 295.56L657.7 321.93L657.99 296.15L658.06 324.17L658.35 298.27L658.54 317.82L658.71 295.82L658.94 307.18L659.12 295.84L659.36 305.41L659.44 295.28L659.64 303.43L659.84 294.74L660.19 306.35L660.29 294.84L660.52 306.7L660.75 295.46L660.96 303.87L661.15 294.66L661.39 303.07L661.5 292.47L661.72 306.97L661.96 292.98L662.13 304.45L662.33 293.75L662.44 301.39L662.76 292.94L662.91 302.03L663.07 293.6L663.25 305.79L663.45 292.76L663.67 305.12L663.89 291.95L664.13 300.66L664.37 291.17L664.46 301.72L664.68 291.44L664.86 299.07L664.7 311.5L665.3 311.5L665.06 290.95L665.34 300.49L665.51 291L665.66 303.69L665.92 291.4L666.19 301.78L666.31 289.88L666.57 302.22L666.8 289.55L666.9 297.52L667.07 289.86L667.37 305.65L667.5 288.93L667.74 299L667.98 288.86L668.15 299.61L668.32 288.6L668.45 298.32L668.66 289.55L668.87 301.07L669.14 287.95L669.37 300.95L669.54 288.41L669.76 301.46L669.98 285.43L670.06 298.97L670.35 286.68L670.52 302.58L670.7 286.76L670.86 297.79L671.14 286.29L671.25 301.26L671.57 287.14L671.75 299.83L671.93 286.74L672.09 300.73L672.26 283.2L672.2 308.5L672.8 308.5L672.54 297.98L672.79 284.37L672.99 300.6L673.07 284.13L673.37 294.75L673.45 282.97L673.73 291.68L673.99 284.16L674.16 293.12L674.33 283.78L674.54 293.18L674.7 283.44L674.88 292.44L675.08 283.13L675.29 295.36L675.51 282.78L675.81 294.14L675.91 282.28L676.13 294.94L676.37 282.21L676.47 291.35L676.77 282.13L676.98 294.99L677.1 281.56L677.33 295.07L677.52 282.16L677.67 290.83L677.98 281.9L678.19 291.5L678.26 281.53L678.54 292.1L678.75 279.68L679.01 290.64L679.17 280.8L679.4 289.41L679.6 279.36L679.74 295.17L679.97 279.2L680.2 294.67L680.26 281.25L680.55 294.93L680.78 279.97L680.87 301.56L681.21 277.12L681.26 301.64L681.55 277.78L681.72 301.25L681.92 279.08L682.08 301.79L682.32 277.14L682.52 297.43L682.81 277.24L682.95 287.04L683.08 277.78L683.27 284.86L683.55 275.32L683.75 287.61L683.96 275.54L684.22 286.17L684.29 275.58L684.48 285.6L684.81 273.45L685 283.22L685.11 276.05L685.29 284.94L685.52 274.46L685.81 286.04L685.92 275.61L685.7 305.5L686.3 305.5L686.17 285.5L686.38 273.77L686.57 285.99L686.73 274.58L687.01 284.56L687.21 273.34L687.31 285.54L687.46 274.05L687.72 285.31L687.87 272.38L688.07 287.16L688.38 272.93L688.62 281.32L688.7 271.95L688.91 285.96L689.21 272.4L689.27 282.73L689.48 272.9L689.74 285.74L689.88 271.23L690.09 285.61L690.32 271.55L690.62 284.63L690.73 271.28L690.99 282.85L691.16 271.28L691.35 280.8L691.55 270.32L691.78 280.24L691.95 269.82L692.18 282.74L692.42 270.24L692.57 279.54L692.76 270.31L692.96 280.28L693.17 269.31L693.33 284.17L693.55 266.91L693.8 283.42L693.94 268.91L694.15 282.87L694.3 268.29L694.49 283.54L694.78 268.21L694.94 280.56L695.17 268.51L695.31 282.84L695.2 310L695.8 310L695.6 267.93L695.71 277.89L695.9 267.03L696.22 279.34L696.37 265.69L696.52 278.87L696.82 266.88L696.99 279.22L697.18 265.97L697.3 279.3L697.57 264.91L697.7 279.28L697.92 263.18L698.21 277.42L698.38 265.73L698.57 281.71L698.78 264.32L698.95 277.54L699.2 263.96L699.36 282.62L699.51 264.69L699.73 283.19L699.91 264.1L700.09 283.02L700.36 261.47L700.55 278.27L700.78 262.55L701 277.67L701.09 261.64L701.41 276.37L701.49 262.49L701.71 275.24L701.89 262.57L702.13 275.18L702.32 259.8L702.61 270.47L702.78 261.76L702.88 272.14L702.7 309.5L703.3 309.5L703.17 261.23L703.42 274.75L703.59 259.65L703.72 272.64L703.93 261.17L704.17 274.42L704.31 260.64L704.48 273.31L704.78 259.38L704.91 270.16L705.16 260.25L705.33 273.01L705.63 258.52L705.7 271.24L705.98 259.85L706.12 269.28L706.35 257.95L706.62 271.68L706.68 259.4L706.95 270.76L707.17 257.95L707.39 272.09L707.48 258.53L707.74 266.38L707.89 257.96L708.22 269.27L708.37 257.52L708.6 266.55L708.5 283.8L709.1 283.8L708.81 256.59L709 271.62L709.23 256.59L709.29 271.28L709.62 255.57L709.71 266.24L709.98 256.4L710.14 265.78L710.37 255.03L710.6 267.46L710.81 254.66L711 268.92L711.18 255.29L711.28 264.39L711.53 255.75L711.73 265.24L711.97 253.98L712.1 267.58L712.3 255.22L712.62 264L712.83 253.72L712.94 264.14L713.12 253.55L713.41 268.63L713.48 251.67L713.68 265.7L713.98 253.62L714.12 262.46L714.41 253.52L714.48 261.92L714.73 251.43L714.93 262.37L715.15 252.19L715.41 261.75L715.55 251.1L715.73 262.66L715.89 249.78L715.7 282.5L716.3 282.5L716.1 259.38L716.31 248.55L716.58 262.48L716.69 249.9L716.98 261.96L717.08 250.22L717.29 261.45L717.61 250.1L717.81 261.61L717.95 250.02L718.13 257.27L718.31 249.65L718.57 257.41L718.83 248.79L718.98 259.9L719.12 249.5L719.44 256.81L719.64 247.11L719.8 257.66L719.9 248.15L720.15 256.24L720.4 248.58L720.53 255.57L720.71 247.36L720.94 257.5L721.21 247.42L721.39 259.57L721.5 244.52L721.76 255.79L721.92 246.49L722.23 255.54L722.29 247.05L722.49 259.19L722.2 266L722.8 266L722.8 244.39L722.89 259.06L723.13 244.82L723.3 256.71L723.57 243.22L723.72 257.3L723.99 245.69L724.2 254.68L724.44 244.79L724.53 252.13L724.79 244.22L725 254.69L725.13 243.72L725.44 257.44L725.49 243.37L725.7 255.74L725.94 241.79L726.1 258.89L726.43 243.19L726.5 252.38L726.73 243.35L727.01 254.74L727.12 243.35L727.37 251.9L727.57 242L727.76 255.12L727.98 241.17L728.16 250.72L728.34 242.2L728.49 252.02L728.82 241.83L728.99 250.68L729.13 241.17L729.29 251.62L729.54 239.98L729.7 252.9L729.97 238.37L730.1 251.79L730.31 239.22L730.52 250.25L730.77 238.15L731.02 249.93L731.19 239.53L731.4 254.08L731.6 238.24L731.78 252.76L731.7 269.5L732.3 269.5L732.02 238.36L732.2 252.65L732.42 237.81L732.65 255.36L732.7 236.05L733 251.78L733.18 238.68L733.44 251.48L733.54 238.85L733.75 255.95L733.91 236.46L734.23 251.29L734.36 235.19L734.5 251.09L734.85 235.23L734.94 251.67L735.12 236.03L735.37 251.25L735.2 266L735.8 266L735.54 235.23L735.7 249.54L735.94 233.89L736.11 250.73L736.32 235.87L736.55 251.36L736.77 235.53L736.94 248.06L737.13 235.59L737.32 251.36L737.64 233.73L737.73 249.03L738 231.8L738.23 243.82L738.4 233.67L738.49 244.75L738.82 233.31L739.05 246.64L739.17 233.76L739.3 245.51L739.6 231.51L739.72 246.94L739.94 233.25L740.24 244.28L740.35 232.66L740.52 249.46L740.72 231.75L741.01 251.44L741.11 230.89L741.41 255.39L741.5 232.94L741.85 254.76L741.93 231.09L742.2 253.25L742.38 231.49L742.63 249.09L742.8 231.62L742.98 246.17L743.15 230.79L743.39 255.07L743.57 230.42L743.7 249.83L743.5 256L744.1 256L743.99 231.62L744.15 246.02L744.35 230.04L744.6 239.81L744.71 230.11L744.99 242.44L745.23 229.41L745.44 239.92L745.51 227.63L745.86 243.06L745.96 227.31L746.11 243.97L746.32 227.13L746.64 241.24L746.85 228.59L746.98 242.96L747.14 226.27L747.34 240.97L747.57 227.35L747.8 239.6L747.93 226.12L748.24 234.84L748.32 225.7L748.6 235.95L748.74 226.15L749.06 238.26L749.11 225.51L749.34 237.68L749.62 224.98L749.77 232.78L750.05 224.68L750.17 232.64L750.31 224.65L750.58 233.64L750.73 223.9L750.7 244.5L751.3 244.5L751.02 233.13L751.12 224.68L751.36 243.19L751.61 224.85L751.86 244.13L751.94 224.45L752.15 249.47L752.33 225.62L752.57 247.9L752.84 225.1L753.01 251.7L753.21 220.4L753.41 241.11L753.63 224.68L753.81 243.23L753.95 220.42L754.13 245.27L754.46 221.49L754.65 231.83L754.83 220.98L754.95 230.79L755.18 221.63L755.32 232.13L755.2 243.8L755.8 243.8L755.58 221.57L755.81 236.03L756.04 220.41L756.18 234.41L756.39 220.34L756.64 234.02L756.81 220.79L756.98 232.56L757.16 220.3L757.36 231.17L757.6 219.21L757.83 234.91L758.03 219.65L758.2 234.15L758.37 219.06L758.59 232.79L758.72 218.94L759.06 228.08L759.18 218.59L759.33 233.22L759.55 218.48L759.72 229.64L760 218.2L760.17 240.32L760.38 216.49L760.52 239.11L760.84 219.03L760.7 249.5L761.3 249.5L761.05 236.66L761.11 217.12L761.32 229.91L761.65 215.52L761.86 229.44L762.06 215.99L762.27 235.15L762.33 214.81L762.59 234.83L762.76 214.95L763.01 227.38L763.16 213.07L763.38 224.9L763.6 215.28L763.72 221.92L764.03 213.92L764.25 223.57L764.4 213.98L764.53 225.91L764.75 212.91L764.99 225.73L765.21 212.53L765.39 223.88L765.58 212.27L765.86 222.54L766.01 211.94L766.2 224.39L766.47 210.48L766.53 227.71L766.84 212.87L767.01 222.64L767.16 212.03L767.42 223.75L767.67 211.32L767.81 224.25L767.7 226L768.3 226L768.04 211.97L768.15 224.82L768.38 211.58L768.54 222.2L768.75 210.93L768.97 219.57L769.22 209.96L769.43 221.56L769.57 210.07L769.81 221.79L769.92 209.85L770.18 231.51L770.46 208.83L770.57 229.45L770.82 210.46L771.01 222.82L771.16 209.29L771.39 221.88L771.54 209.73L771.87 221.17L772 207.64L772.17 227.52L772.41 208.68L772.64 221.82L772.82 207.08L773.03 221.94L773.24 208.19L773.34 218.87L773.55 208.29L773.5 233L774.1 233L773.87 219.24L774.05 204.68L774.18 220.15L774.35 206.42L774.64 222.27L774.85 207.09L774.96 225.04L775.15 206.72L775.39 226.26L775.58 204.17L775.81 221.73L775.94 206.62L776.12 219.71L776.41 205.36L776.6 221.75L776.87 203.87L777 215"/>
<path stroke="#00ffff" d="M116 129.4L124.41 128.07L132.83 126.74L141.24 125.41L149.66 124.08L158.07 122.75L166.48 121.41L174.9 120.08L183.31 118.75L191.72 117.42L200.14 116.09L208.55 114.77L216.97 113.44L225.38 112.11L233.79 110.78L242.21 109.45L250.62 108.12L259.03 106.8L267.45 105.47L275.86 104.15L284.28 102.82L292.69 101.5L301.1 100.17L309.52 98.85L317.93 97.53L326.34 96.2L334.76 94.88L343.17 93.55L351.59 92.2L360 90.85L360.5 90.77L361 90.69L361.5 90.61L362 90.53L362.5 90.44L363 90.36L363.5 90.28L364 90.2L364.5 90.12L365 90.04L365.5 89.96L366 89.88L366.5 89.8L367 89.72L367.5 89.64L368 89.55L368.5 89.47L369 89.39L369.5 89.31L370 89.23L370.5 89.16L371 89.08L371.5 89L372 88.92L372.5 88.84L373 88.76L373.5 88.68L374 88.6L374.5 88.53L375 88.45L375.5 88.37L376 88.3L376.5 88.22L377 88.14L377.5 88.06L378 87.98L378.5 87.9L379 87.81L379.5 87.73L380 87.64L380.5 87.54L381 87.45L381.5 87.35L382 87.24L382.5 87.13L383 87.02L383.5 86.9L384 86.77L384.5 86.64L385 86.5L385.5 86.36L386 86.2L386.5 86.04L387 85.87L387.5 85.7L388 85.51L388.5 85.31L389 85.11L389.5 84.89L390 84.66L390.5 84.42L391 84.17L391.5 83.9L392 83.62L392.5 83.33L393 83.02L393.5 82.7L394 82.37L394.5 82.03L395 81.67L395.5 81.31L396 80.93L396.5 80.54L397 80.13L397.5 79.72L398 79.3L398.5 78.87L399 78.42L399.5 77.97L400 77.5L400.5 77.02L401 76.53L401.5 76.03L402 75.51L402.5 74.98L403 74.43L403.5 73.87L404 73.29L404.5 72.7L405 72.09L405.5 71.47L406 70.84L406.5 70.19L407 69.54L407.5 68.89L408 68.23L408.5 67.56L409 66.9L409.5 66.24L410 65.59L410.5 64.94L411 64.3L411.5 63.67L412 63.05L412.5 62.44L413 61.83L413.5 61.23L414 60.64L414.5 60.05L415 59.46L415.5 58.87L416 58.28L416.5 57.69L417 57.1L417.5 56.5L418 55.9L418.5 55.3L419 54.7L419.5 54.11L420 53.54L420.5 52.98L421 52.45L421.5 51.95L422 51.49L422.5 51.06L423 50.68L423.5 50.33L424 50.03L424.5 49.76L425 49.52L425.5 49.3L426 49.1L426.5 48.93L427 48.8L427.5 48.72L427.9 48.7L427.98 48.72L428.06 48.75L428.14 48.77L428.22 48.8L428.3 48.83L428.38 48.86L428.46 48.89L428.54 48.92L428.62 48.96L428.7 48.99L428.78 49.03L428.86 49.07L428.94 49.11L429.02 49.16L429.1 49.2L429.18 49.25L429.26 49.3L429.34 49.35L429.42 49.41L429.5 49.47L429.58 49.52L429.66 49.59L429.74 49.65L429.82 49.72L429.9 49.78L429.98 49.86L430.06 49.93L430.14 50L430.22 50.08L430.3 50.17L430.38 50.25L430.46 50.34L430.54 50.43L430.62 50.52L430.7 50.62L430.78 50.72L430.86 50.82L430.94 50.93L431.02 51.04L431.1 51.16L431.18 51.28L431.26 51.4L431.34 51.53L431.42 51.66L431.5 51.79L431.58 51.94L431.66 52.08L431.74 52.23L431.82 52.39L431.9 52.55L431.98 52.72L432.06 52.89L432.14 53.07L432.22 53.26L432.3 53.46L432.38 53.66L432.46 53.87L432.54 54.09L432.62 54.31L432.7 54.55L432.78 54.8L432.86 55.05L432.94 55.32L433.02 55.6L433.1 55.9L433.18 56.2L433.26 56.53L433.34 56.87L433.42 57.22L433.5 57.6L433.58 58L433.66 58.42L433.74 58.87L433.82 59.35L433.9 59.86L433.98 60.41L434.06 61L434.14 61.64L434.22 62.34L434.3 63.11L434.38 63.96L434.46 64.92L434.54 66L434.62 67.26L434.7 68.75L434.78 70.57L434.86 72.93L434.94 76.25L435.02 81.8L435.1 81.8L435.1 81.8L435.18 81.02L435.26 75.33L435.34 72.01L435.42 69.65L435.5 67.83L435.58 66.34L435.66 65.09L435.74 64L435.82 63.05L435.9 62.2L435.98 61.44L436.06 60.74L436.14 60.11L436.22 59.53L436.3 58.99L436.38 58.48L436.46 58.02L436.54 57.58L436.62 57.17L436.7 56.79L436.78 56.43L436.86 56.09L436.94 55.75L437.02 55.43L437.1 55.12L437.18 54.82L437.26 54.54L437.34 54.28L437.42 54.02L437.5 53.78L437.58 53.56L437.66 53.34L437.74 53.13L437.82 52.94L437.9 52.75L437.98 52.58L438.06 52.42L438.14 52.26L438.22 52.11L438.3 51.98L438.38 51.85L438.46 51.73L438.54 51.62L438.62 51.52L438.7 51.43L438.78 51.34L438.86 51.26L438.94 51.2L439.02 51.14L439.1 51.09L439.18 51.04L439.26 51.01L439.34 50.98L439.42 50.97L439.5 50.96L439.58 50.96L439.66 50.97L439.74 50.99L439.82 51.01L439.9 51.05L439.98 51.1L440.06 51.16L440.14 51.23L440.22 51.31L440.3 51.4L440.38 51.5L440.46 51.61L440.54 51.74L440.62 51.88L440.7 52.03L440.78 52.2L440.86 52.39L440.94 52.59L441.02 52.81L441.1 53.04L441.18 53.3L441.26 53.58L441.34 53.88L441.42 54.21L441.5 54.56L441.58 54.95L441.66 55.37L441.74 55.83L441.82 56.33L441.9 56.88L441.98 57.49L442.06 58.16L442.14 58.91L442.22 59.76L442.3 60.73L442.38 61.85L442.46 63.16L442.54 64.76L442.62 66.78L442.7 69.5L442.78 73.66L442.86 77.9L442.9 77.9L442.94 77.9L443.02 74.13L443.1 69.92L443.18 67.14L443.26 65.07L443.34 63.42L443.42 62.05L443.5 60.88L443.58 59.86L443.66 58.96L443.74 58.16L443.82 57.44L443.9 56.78L443.98 56.19L444.06 55.64L444.14 55.14L444.22 54.67L444.3 54.25L444.38 53.85L444.46 53.49L444.54 53.15L444.62 52.84L444.7 52.56L444.78 52.3L444.86 52.06L444.94 51.84L445.02 51.64L445.1 51.46L445.18 51.3L445.26 51.15L445.34 51.03L445.42 50.92L445.5 50.83L445.58 50.76L445.66 50.71L445.74 50.67L445.82 50.66L445.9 50.66L445.98 50.68L446.06 50.71L446.14 50.77L446.22 50.85L446.3 50.94L446.38 51.06L446.46 51.2L446.54 51.37L446.62 51.56L446.7 51.78L446.78 52.02L446.86 52.29L446.94 52.6L447.02 52.95L447.1 53.33L447.18 53.76L447.26 54.23L447.34 54.77L447.42 55.37L447.5 56.04L447.58 56.8L447.66 57.68L447.74 58.69L447.82 59.87L447.9 61.3L447.98 63.07L448.06 65.38L448.14 68.66L448.22 74.31L448.3 90.3L448.3 90.3L448.38 73.62L448.46 67.92L448.54 64.59L448.62 62.24L448.7 60.43L448.78 58.96L448.86 57.74L448.94 56.7L449.02 55.8L449.1 55.01L449.18 54.32L449.26 53.71L449.34 53.16L449.42 52.69L449.5 52.26L449.58 51.89L449.66 51.57L449.74 51.29L449.82 51.05L449.9 50.85L449.98 50.7L450.06 50.58L450.14 50.5L450.22 50.45L450.3 50.45L450.38 50.48L450.46 50.55L450.54 50.67L450.62 50.82L450.7 51.02L450.78 51.27L450.86 51.58L450.94 51.93L451.02 52.36L451.1 52.85L451.18 53.42L451.26 54.09L451.34 54.86L451.42 55.78L451.5 56.87L451.58 58.18L451.66 59.82L451.74 61.93L451.82 64.88L451.9 69.65L451.98 82.82L452 91.6L452.06 73.58L452.14 66.63L452.22 62.93L452.3 60.42L452.38 58.53L452.46 57.03L452.54 55.8L452.62 54.77L452.7 53.9L452.78 53.16L452.86 52.53L452.94 52L453.02 51.55L453.1 51.17L453.18 50.87L453.26 50.63L453.34 50.45L453.42 50.34L453.5 50.29L453.58 50.3L453.66 50.38L453.74 50.52L453.82 50.73L453.9 51.01L453.98 51.37L454 51.89L454.12 73.98L454.39 52.27L454.64 65.31L454.79 52.67L455 67.48L455.12 51.23L455.4 71.56L455.67 49.51L455.86 68.65L456.04 52.64L456.14 67.63L456.46 51.42L456.66 62.85L456.75 50.45L457.02 61.49L457.13 50.28L457.34 62.26L457.57 49.16L457.75 60.63L457.5 74.7L458.1 74.7L458.04 50.48L458.25 60.22L458.38 50.5L458.57 61.17L458.74 51.39L458.94 60.75L459.24 51.07L459.42 59.8L459.53 51.34L459.8 58.5L459.99 50.94L460.26 59.51L460.44 50.97L460.62 80.61L460.81 49.17L461.08 79.85L461.28 50.48L461.38 81.32L461.56 50.21L461.85 80.26L461.94 50.32L462.18 79.94L462.34 48.53L462.58 80.19L462.74 50.26L462.97 80.37L463.25 49.92L463.47 79.54L463.65 50.41L463.82 79.77L464.02 50.35L464.18 80.66L464.35 50.63L464.6 66.18L464.84 50.73L464.94 67.33L465.13 50.08L465.45 65.17L465.58 49.08L465.84 65.54L466.04 50.41L466.28 73.3L466.39 51.16L466.59 68.53L466.86 50.66L467.05 67.65L467.23 51.92L467.46 68.51L467.63 51.2L467.88 71.26L467.98 50.84L468.25 71.83L468.48 52.02L468.58 72.46L468.83 50.76L468.99 72.06L469.2 52.39L469.34 70.75L469.53 50.91L469.85 61.23L470 50.04L470.23 58.73L470.45 51.03L470.6 58.87L470.79 50.18L470.96 60.79L471.26 50.93L471.46 59.19L471.65 49.67L471.87 66.5L472.03 51.59L472.24 63.74L472.36 50.43L472.65 61.2L472.79 49.69L473 62.87L473.18 50.75L473.42 62.95L473.64 49.97L473.82 65.66L473.98 50.78L474.17 65.08L474.47 49.31L474.58 64.93L474.8 47.79L474.95 63.39L475.18 50.25L475.35 62.16L475.59 48.28L475.5 90L476.1 90L475.85 62.91L476.09 51.14L476.23 73.28L476.38 51.94L476.64 67.72L476.83 49.46L477.07 71.88L477.22 50.02L477.48 67.83L477.6 49.37L477.78 64.73L478.02 49.88L478.28 59.68L478.45 50.08L478.61 61.21L478.81 49.3L479.04 63.29L479.21 50.78L479.42 58.82L479.69 49.73L479.89 61.37L480.07 50.43L480.16 61.91L480.1 65.7L480.7 65.7L480.43 50.03L480.6 61.39L480.88 49.4L480.99 61.64L481.29 49.42L481.38 60.76L481.6 50.06L481.89 62.95L482.03 49.3L482.29 62.76L482.42 50.32L482.57 60.5L482.85 49.6L483.02 58.35L483.22 50.01L483.36 60.25L483.56 50.59L483.89 58.02L484.09 49.56L484.29 61.12L484.4 49.03L484.55 57.47L484.83 49.65L485.06 57.61L485.24 48.92L485.35 60.83L485.58 48.19L485.85 58.9L485.95 49.61L486.28 74.94L486.5 49.43L486.58 74.37L486.75 49.06L487.1 74.47L487.26 49L487.41 74.99L487.62 49.13L487.89 74.55L488 49.88L488.15 74.88L488.44 51.51L488.59 74.5L488.85 47.39L489.09 74.52L489.2 48.95L489.38 76.05L489.55 48.95L489.88 74.71L489.95 51.27L490.29 75.57L490.46 47.35L490.69 74.69L490.87 49.05L490.97 76.1L491.17 48.7L491.5 75.29L491.59 51.36L491.87 75.83L491.97 47.39L492.19 75.63L492.45 49.14L492.58 64.84L492.86 51.22L493.08 71.99L493.2 49.04L493.39 63.03L493.55 49.6L493.81 64.7L493.96 49.86L494.24 65.34L494.46 49.93L494.64 64.26L494.84 49.91L495.04 59.22L495.29 49.78L495.43 64.38L495.68 50.26L495.4 71L496 71L495.8 64.67L495.97 47.57L496.18 59.84L496.47 49.65L496.58 59.05L496.87 49.54L497.09 59.53L497.23 50.07L497.37 65.86L497.65 48.33L497.81 62.01L498.09 46.83L498.18 64.45L498.38 50.4L498.62 70.61L498.83 48.84L498.98 60.14L499.21 48.24L499.46 64.04L499.62 47.48L499.76 61.22L500.01 48.08L500.22 61.9L500.42 49.28L500.55 60.13L500.79 49.28L500.7 90L501.3 90L501.1 55.79L501.29 49.08L501.5 57.65L501.67 48.31L501.82 58.03L502.1 48.57L502.2 56.79L502.44 48.89L502.64 58.59L502.82 48.72L502.99 56.76L503.2 49.19L503.45 57.19L503.6 48.95L503.81 58.14L504.01 48.81L504.2 58.59L504.48 49.12L504.64 59.17L504.75 49.16L505.07 56.95L505.23 49.05L505.48 55.64L505.63 48.29L505.8 57.61L506.09 48.69L506.18 62.53L506 63.4L506.6 63.4L506.4 48.53L506.63 57.74L506.89 49.28L506.97 58.59L507.21 48.92L507.44 57.57L507.66 47.15L507.77 62.81L508.07 47.31L508.24 57.7L508.44 49.06L508.61 61.55L508.8 48.79L509.1 61.55L509.31 49.15L509.38 61.57L509.59 48.66L509.86 56.81L510.08 48.51L510.29 59.72L510.4 48.11L510.59 57.98L510.77 48.93L511.02 56.93L511.25 47.67L511.5 57.34L511.56 48.49L511.77 56.91L512.06 48.38L512.26 57.5L512.38 48.08L512.57 55.21L512.76 48.08L513.06 55.24L513.2 46.77L513.4 56.73L513.66 48.09L513.78 57.17L513.5 65.7L514.1 65.7L514.04 47.59L514.17 55.75L514.37 47.55L514.66 59.53L514.88 47.61L515.03 56.48L515.22 48.1L515.47 55.94L515.57 48.12L515.8 55.71L516.1 48.2L516.31 59.51L516.36 48.12L516.2 71L516.8 71L516.56 57.19L516.88 48.3L517.03 59.45L517.28 47.44L517.46 59.43L517.63 46.06L517.87 56.26L518.06 48.56L518.16 57.98L518.43 48.14L518.7 56.64L518.88 47.41L519.07 57.29L519.26 47.83L519.49 65.12L519.61 47.52L519.82 69.12L520.06 47.35L520.29 65.67L520.41 46.39L520.59 62.93L520.8 49.01L521.03 63.64L521.18 48.51L521 68.4L521.6 68.4L521.46 57.89L521.71 48.24L521.82 58.58L522.12 47.2L522.23 61.13L522.45 47.56L522.72 64.05L522.88 48.36L523.04 63.59L523.28 47.35L523.44 64.61L523.68 48.19L523.8 60.87L523.98 48.45L524.26 64.44L524.45 47.86L524.64 62.5L524.78 49L525.11 62.75L525.18 48.32L525.52 58.46L525.62 48.8L525.5 69.4L526.1 69.4L525.81 61.69L526.11 48.3L526.32 58.59L526.48 47.14L526.72 59.52L526.79 48.29L527.1 56.06L527.26 45.33L527.41 59.41L527.66 47.11L527.78 57.3L528.09 47.16L528.27 56.07L528.38 45.56L528.6 59.87L528.81 46.19L529.04 56.79L529.2 47L529.41 57.44L529.66 47.41L529.79 54.82L530.09 45.15L530.24 59.8L530.43 47.07L530.66 60.38L530.79 45.91L530.8 83.7L531.4 83.7L531.11 60.69L531.19 48.05L531.46 57.95L531.72 47.58L531.79 60.55L532.08 46.95L532.32 55.23L532.53 45.31L532.62 59.26L532.87 46.93L533.12 56.3L533.27 46.96L533.51 58.69L533.68 46.65L533.78 55.32L534.02 45.8L534.31 59.06L534.44 47.01L534.64 57.66L534.82 45.49L535 56.31L535.28 48.07L535.43 56.66L535.71 47.74L535.78 55.22L536.11 47.13L536.19 55.73L536.5 46.7L536.64 60.96L536.89 48.06L537.04 60.27L537.2 47.46L537.52 57.19L537.3 63.4L537.9 63.4L537.67 47.5L537.81 59.48L538.07 47.99L538.21 56.23L538.44 46.89L538.67 58.44L538.87 47.72L538.99 61.29L539.2 45.21L539.45 59.46L539.66 47.39L539.91 59.47L540.07 44.83L540.3 55.87L540.43 46.46L540.6 56.7L540.82 46.4L540.98 56.33L541.23 46.98L541.48 58.04L541.71 47.82L541.81 63.83L542.09 46.79L542.3 63.53L542.49 47.71L542.73 59.39L542.87 46.67L543.05 61.19L543.26 47.51L543.38 62.06L543.58 45.44L543.3 66L543.9 66L543.85 63.81L544.04 45.25L544.2 58.16L544.43 47.69L544.68 58.18L544.86 46.83L545.04 57.02L545.3 46.03L545.39 61.68L545.72 46.96L545.89 57.95L546.04 47.54L546.29 57.89L546.53 46.49L546.68 55.78L546.88 46.79L547.09 60.91L547.32 47.09L547.52 61.34L547.62 46.33L547.78 64.05L548.02 47.31L548.24 58.28L548.42 47.6L548.65 62.67L548.93 45.4L549.01 62.46L549.24 47.88L549.51 60.21L549.6 45.35L549.84 63.9L549.7 63.4L550.3 63.4L550.07 46.8L550.3 63.33L550.52 47.73L550.62 61.08L550.93 46.31L551.05 61.51L551.2 46.73L551.41 56.94L551.65 47.25L551.91 61.81L551.99 47.23L552.22 62.77L552.51 46.55L552.71 63.55L552.81 47.26L552.99 64.69L553.29 44.99L553.51 64.34L553.59 47.67L553.87 66.37L554 48.04L554.28 60.8L554.4 47.45L554.6 65.27L554.5 79.5L555.1 79.5L554.87 44.97L555.13 59.32L555.19 46.2L555.4 61.93L555.62 47.93L555.91 65.81L556.02 45.65L556.23 64.18L556.45 46.65L556.72 65.78L556.83 46.53L557.06 65.69L557.26 46.62L557.46 65.5L557.66 45.85L557.91 65.04L558.02 43.9L558.27 65.65L558.41 45.38L558.72 64.05L558.85 45.68L559.14 65.72L559.29 46.16L559.42 65.76L559.73 46.55L559.83 64.11L560.09 46.49L560.31 54.96L560.4 46.32L560.62 57.73L560.85 45.64L561.04 53.03L561.24 45.23L561.43 55.71L561.64 43.73L561.94 56.97L562.06 46.17L562.26 69.76L562.43 45.95L562.62 77.52L562.83 47.94L563.13 77.27L563.33 46.83L563.42 76.98L563.65 46.27L563.88 77.39L564.08 47.1L564.22 77.68L564.4 45.9L564.72 77.42L564.81 43.67L565.05 76.11L565.31 47.86L565.5 76.8L565.65 47.36L565.92 76.3L566.15 45.85L566.27 77.78L566.53 47.34L566.67 76.69L566.85 46.05L567.15 69.07L567.31 45.37L567.41 63.14L567.68 43.78L567.85 68.48L568.07 43.31L568.31 52.89L568.44 45.05L568.69 56.15L568.83 45.75L569.06 52.99L569.33 45.63L569.51 55.06L569.65 46.13L569.84 56.35L570.09 44.8L570.27 55.82L570.55 46.03L570.64 53.45L570.5 62L571.1 62L570.94 45.8L571.03 54.39L571.32 46.14L571.53 53.56L571.62 45.84L571.86 54L572.11 45.78L572.26 55.78L572.41 45.72L572.72 54.83L572.87 45.88L573.02 59.53L573.2 43.52L573.48 65.64L573.64 44.97L573.92 65.35L574.02 45.08L574.2 61.68L574.54 46.37L574.66 63.66L574.93 45.25L575.09 61.59L575.34 44.78L575.55 64.43L575.61 46.82L575.5 76.5L576.1 76.5L575.84 63.06L576.02 46.42L576.35 58.22L576.51 46.56L576.74 65.14L576.95 45.73L577.12 60.04L577.34 44.48L577.55 57.93L577.69 46.08L577.93 58.8L578.15 46.16L578.27 57.19L578.43 43.89L578.7 59.48L578.81 44.56L579.05 58.59L579.26 45.55L579.53 58.72L579.6 44.32L579.85 54.76L580.05 43.35L580 78L580.6 78L580.3 56.41L580.54 45.78L580.68 55.69L580.93 44.79L581.07 52.91L581.28 45.45L581.45 52.38L581.63 45.79L581.94 53.48L582.1 44.86L582.24 55.32L582.49 43.39L582.66 54.14L582.81 44.96L583.11 56.01L583.34 44.22L583.5 57.26L583.62 45.61L583.87 56.64L584.03 45.04L584.23 54.57L584.45 46.04L584.74 56.43L584.94 45.21L584.8 69.7L585.4 69.7L585.13 57.49L585.35 44.85L585.42 58.08L585.64 45.51L585.81 63.01L586 43.19L586.3 56.31L586.47 45.4L586.69 56.6L586.94 45.42L587.05 63.88L587.24 46.09L587.53 65.71L587.61 42.75L587.95 61.85L588.06 46.26L588.21 67.09L588.44 45.22L588.62 68.86L588.94 44.09L589.01 68.8L589.21 43.2L589.5 67.5L589.64 44.05L589.86 61.1L590.13 44.16L590.27 65.85L590.52 45.56L590.65 65.68L590.83 44.28L591.02 67.25L591.34 45.34L591.42 64.91L591.62 46.16L591.83 61.38L592.09 45.27L592.32 61.33L592.48 42.1L592.71 60.49L592.89 46.55L593.13 61.37L593.3 46.06L593.43 60.67L593.66 46.17L593.97 61.34L594.08 46.02L594.32 60.77L594.43 44.26L594.72 60.73L594.92 44.77L595.03 56.88L595.36 44.53L595.47 55.71L595.66 43.15L595.92 56.52L596.16 44.91L596.34 53.44L596.5 43.87L596.62 54.37L596.89 44.91L597.11 53.95L597.34 44.6L597.44 52.99L597.68 43.56L597.6 96L598.2 96L597.91 57.16L598.12 43.46L598.22 54.61L598.55 43.44L598.63 57.31L598.95 44.11L599.15 55.29L599.31 43.43L599.5 52.99L599.67 44.67L599.87 56.84L600.16 42.85L600.32 53.37L600.49 42.34L600.67 53.33L600.97 44.92L601.16 54.37L601.36 43.51L601.56 53.48L601.67 44.57L601.94 57.6L602.12 42.4L602.36 56.55L602.53 45L602.75 53.96L602.94 43.32L603.1 56.34L602.9 60.7L603.5 60.7L603.32 43.39L603.42 54.48L603.67 43.42L603.94 56.1L604.03 41.83L604.27 57.58L604.51 41.96L604.69 53.93L604.82 44.25L605.04 54.54L605.32 44.34L605.5 52.91L605.71 43.43L605.6 96L606.2 96L605.96 56.82L606.16 44.93L606.26 59.76L606.56 44.54L606.7 57.08L606.92 41.53L607.03 57.27L607.28 45.1L607.57 59.38L607.77 43.47L607.88 52.38L608.05 42.05L608.37 52.85L608.5 43.51L608.77 53.55L608.82 43.1L609.11 53.16L609.26 43.49L609.42 56.92L609.69 44.06L609.97 55.47L610.09 43.43L610.25 52.17L610.53 43.22L610.76 55.8L610.94 43.6L610.7 72L611.3 72L611.06 51.47L611.34 44.48L611.54 53.99L611.69 43.85L611.94 52.88L612.02 43.9L612.25 53.18L612.48 44.18L612.77 55.64L612.93 43.81L613.13 55.07L613.35 42.82L613.53 55.6L613.63 44.23L613.96 56.01L614.14 42.69L614.25 57.1L614.51 42.92L614.69 57.67L614.82 44.25L615.15 55.28L614.9 75.4L615.5 75.4L615.27 42.79L615.52 56.56L615.75 43.23L615.97 51.97L616.1 43.9L616.29 57.25L616.42 42.72L616.64 55.3L616.94 42.57L617.05 57.46L617.31 44.32L617.45 57.56L617.75 43.22L617.86 53.84L618.14 41.78L618.29 55.94L618 69.7L618.6 69.7L618.54 43.16L618.68 56.98L618.98 43.21L619.1 58.63L619.29 42.99L619.49 51.15L619.67 41.55L619.93 54.28L620.05 41.28L620.25 51.86L620.58 43.2L620.66 52.71L620.95 43.33L621.04 51.47L621.32 43.77L621.44 51.55L621.68 41.05L621.88 54.32L622.12 42.46L622.22 54.96L622.47 43.41L622.75 53.15L622.95 43.22L623.15 54.78L623.32 42.3L623.55 51.15L623.69 42.33L623.88 55.89L623.7 77.2L624.3 77.2L624.16 43.48L624.29 54.88L624.45 40.56L624.78 61.44L624.85 45.4L625.15 64.29L625.26 43.96L625.56 61.29L625.73 43.04L625.98 54.97L626.12 41.2L626.36 56.15L626.51 43.97L626.77 54.57L626.89 43.14L626.7 85.5L627.3 85.5L627.18 54.71L627.33 43.93L627.57 58.67L627.63 42.8L627.89 57.16L628.17 42.69L628.27 54.43L628.51 42.28L628.7 59.36L628.83 42.53L629.03 59.2L629.31 43.43L629.49 53.42L629.77 41.14L629.88 60.03L630.05 43.84L630.25 59.26L630.5 43.41L630.79 54.72L630.97 43.53L631.12 53.33L631.31 43.35L631.53 54.31L631.75 43.44L631.84 52.1L632.18 41.31L632.37 57L632.51 43.25L632.68 55.23L632.92 42.85L633.11 56.1L633.28 43.56L633 68.5L633.6 68.5L633.45 56.75L633.75 42.59L633.97 53.87L634.14 41.93L634.28 53.59L634.5 42.99L634.66 56.97L634.98 42.63L635.07 55.06L635.29 43.29L635.54 53.86L635.75 42.77L635.9 56.45L636.05 41.7L636.3 54.88L636.56 40.2L636.68 55.01L636.9 42.45L637.08 51.62L637.29 43.42L637.49 55.34L637.71 40.65L637.5 66.4L638.1 66.4L637.97 56.77L638.16 43.33L638.26 56.47L638.47 43.29L638.69 57.12L638.94 41.99L639.15 57.37L639.35 42.52L639.47 55.28L639.67 42.74L639.99 51.31L640.13 42.76L640.36 51.14L640.47 42.52L640.73 51.91L640.88 40.07L641.11 52.72L641.31 40.69L641.57 51.56L641.69 41.51L641.95 52.3L642.09 41.75L642.33 50.96L642.57 39.75L642.67 49.55L642.9 41.29L643.19 51.99L643.37 42.13L643.58 51.64L643.73 42.66L643.9 53.95L644.06 42.7L644.38 49.49L644.46 41.38L644.79 58.42L644.99 42.49L645.19 59.6L645.36 41.76L645.54 54.8L645.7 43.44L645.97 59.39L646.13 41.7L646.32 58.47L646.46 42.17L646.66 57.82L646.95 41.88L647.06 57.52L647.35 41.08L647.51 55.08L647.66 41.42L647.93 58.2L648.17 42.73L648.4 53.4L648.48 42.02L648.7 54.63L648.92 39.66L649.12 60.01L649.28 42.72L649.49 53.07L649.66 41.82L649.93 60.23L650.2 41.67L650.26 57L650.56 41.77L650.3 78.4L650.9 78.4L650.73 55.07L650.89 42.98L651.1 55.93L651.4 40.48L651.46 54.66L651.74 42.7L651.93 53.02L652.19 41.16L652.28 57.12L652.45 39.27L652.78 51.92L652.9 40.94L653.11 51.72L653.26 42.31L653.48 51.89L653.68 41.59L653.95 50.25L654.07 42.3L654.27 53.93L654.51 42.29L654.71 53.12L654.85 41.87L655.2 54.54L655.38 41.67L655.57 53.52L655.76 43.13L655.91 61.65L656.15 42.57L656.38 58.04L656.56 40.03L656.79 62.56L656.97 42.06L657.16 61.25L657.39 40.64L657.57 64.85L657.7 40.15L657.93 56.1L658.06 42.68L658.31 64.13L658.55 43.27L658.68 63.03L658.6 67.9L659.2 67.9L658.94 41.99L659.1 64.69L659.28 43.14L659.5 64.33L659.74 39.33L659.92 57.61L660.12 41.98L660.37 63.29L660.55 41.55L660.74 53.5L660.87 39.81L661.05 53.62L661.31 40.77L661.47 50L661.75 41.15L661.99 52.35L662.17 41.41L662.32 48.85L662.58 38.83L662.76 53.48L662.93 41.79L663.15 54.83L663.28 41.74L663.45 56.4L663.8 41.61L664 56.06L664.13 41.5L664.34 51.39L664.58 40.76L664.67 57.13L664.6 75.7L665.2 75.7L664.97 41.86L665.18 54.93L665.29 41.37L665.54 53.37L665.78 41.35L666 50.81L666.12 40.81L666.28 50.89L666.57 39.45L666.75 52.05L666.93 41.34L667.11 55.62L667.26 41.7L667.6 54.5L667.71 40.23L667.86 54.77L667.7 64.4L668.3 64.4L668.07 40.99L668.35 53.83L668.46 41.69L668.78 55.91L668.97 40.87L669.05 54.74L669.36 40.35L669.5 54.92L669.7 40.18L669.99 53.64L670.07 41.16L670.32 50.94L670.61 39.39L670.67 53.13L670.95 39.5L671.1 55.11L671.29 41.6L671.51 50.44L671.77 40.08L671.92 55.17L672.17 41.92L672.4 63.34L672.6 41.7L672.74 57.09L672.9 40.32L673.16 58.01L673.27 38.77L673.51 56.16L673.7 40.33L674.01 58.21L674.15 41.58L674.32 56.09L674.5 40.78L674.74 59.5L674.94 42.43L675.19 65.43L675.34 41.8L675.61 62.65L675.67 39.88L675.4 67L676 67L675.95 56.84L676.13 42.44L676.31 61.99L676.54 40.61L676.82 51.56L676.92 41.08L677.21 50.41L677.34 40.67L677.52 51.55L677.67 40.86L677.87 47.47L678.2 39.02L678.28 50.04L678.51 40.98L678.4 62.4L679 62.4L678.72 51.87L678.87 40.14L679.09 51.43L679.3 40.4L679.53 49.78L679.68 39.92L679.96 49.36L680.13 40.51L680.37 52.08L680.49 39.58L680.7 49.02L680.93 40.81L681.12 48.17L681.31 40.51L681.48 49.11L681.74 40.47L681.92 52.47L682.12 39.68L682 75.2L682.6 75.2L682.39 51.37L682.47 40.94L682.69 51.62L683.01 39.72L683.12 52.7L683.27 40.68L683.5 49.75L683.67 41.13L684.02 49.21L684.11 39.36L684.29 48.67L684.48 40.3L684.79 51.03L684.95 40.48L685.21 52.54L685.33 39.44L685.53 53.62L685.75 40.16L685.5 66.2L686.1 66.2L685.96 50.83L686.15 39.5L686.3 49.88L686.55 38.13L686.82 48.32L686.95 40.15L687.13 49.95L687.28 40.69L687.62 52.95L687.67 39.21L687.87 51.05L688.12 40.27L688.41 52.71L688.52 39.66L688.5 69.5L689.1 69.5L688.81 51.74L689 39.66L689.12 53.94L689.36 38.07L689.53 49.27L689.81 39.84L689.98 53.12L690.18 40.58L690.36 52.64L690.57 39.73L690.78 53.75L691.01 39.09L691.11 52.46L691.29 37.51L691.52 54.13L691.79 39.49L692 53.51L692.13 38.33L692.36 51.6L692.6 39.81L692.79 55.29L692.99 40.74L693.15 56.22L693.37 39.67L693.49 50.34L693.75 39.05L693.87 54.08L693.7 55.7L694.3 55.7L694.14 39.03L694.29 52.46L694.61 39.14L694.8 53.53L694.96 39.79L695.22 52.13L695.29 40.44L695.58 54.62L695.74 38.9L695.98 55.27L696.19 39.38L696.42 56.77L696.62 39.29L696.76 53.26L697.02 38.26L697.14 54.36L697.39 39.66L697.1 81.3L697.7 81.3L697.56 56.7L697.81 37.18L697.9 52.86L698.19 39.93L698.41 51.71L698.59 37.35L698.7 58.37L698.97 40.56L699.2 55.69L699.3 39.81L699.63 55.29L699.72 39.48L699.9 55.13L700.17 40.09L700.28 58.48L700.57 38.75L700.74 57.99L701.03 40.77L701.12 61.05L701.35 38.64L701.48 54.97L701.74 39.6L701.98 62.84L701.7 61.7L702.3 61.7L702.1 39.15L702.33 55.13L702.59 39.09L702.74 59.17L702.91 40.54L703.1 54.77L703.28 37.81L703.6 49.45L703.75 36.82L703.92 52.09L704.09 38.94L704.39 50.21L704.61 39.7L704.73 48.99L704.94 38.46L705.23 53.83L705.32 39.7L705.54 53.85L705.74 39.4L705.97 49.38L705.7 55L706.3 55L706.14 39.67L706.42 48.25L706.6 40.9L706.72 54.73L706.89 38.24L707.22 61.5L707.4 40.15L707.53 62.66L707.78 38.27L707.91 55.88L708.13 38.32L708.39 57.56L708.57 39.03L708.78 52.3L708.97 38.43L709.15 48.74L709.35 36.75L709.2 83.5L709.8 83.5L709.59 50.17L709.84 40.1L709.91 54.62L710.23 38.5L710.33 50.28L710.56 38.69L710.73 48.75L711.03 38.87L711.19 49.22L711.33 38.62L711.61 51.71L711.77 38.85L711.97 48.22L712.15 39.11L712.35 50.16L712.6 39L712.71 50.69L712.9 39.18L713.19 49.75L713.33 39.38L713.52 52.91L713.71 36.8L713.89 50.35L714.15 38.67L714.39 50.89L714.1 63.5L714.7 63.5L714.61 38.98L714.73 49.86L714.89 38.38L715.12 47.97L715.3 38.95L715.55 48.31L715.69 37.09L716 51.84L716.17 36.73L716.41 48.28L716.63 38.33L716.82 49.84L716.93 38.37L717.1 48.91L717.34 37.87L717.62 46.83L717.82 38.78L717.98 49.91L718.14 39.31L718.38 49.16L718.52 38.62L718.7 51.85L718.89 39.29L719.09 52.09L719.43 38.09L719.58 50.51L719.75 38.59L720.01 46.03L720.18 39.02L720.31 50.4L720.6 38.23L720.76 49.89L720.6 60.2L721.2 60.2L720.98 37.8L721.24 48.31L721.29 38.33L721.64 46.85L721.71 38.14L721.9 50.19L722.14 38.7L722.41 50.05L722.54 39.49L722.69 50.03L723.01 39.26L723.19 55.29L723.41 37.69L723.61 46.16L723.84 38.22L723.94 46.7L724.22 38.47L724.36 47.11L724.57 36.68L724.69 47.27L725.03 37.44L725.19 51.34L725.35 39.5L725.5 52.92L725.73 38.9L725.95 53.67L726.19 39.6L726.42 53.94L726.55 38.67L726.74 59.47L726.9 39.08L727.23 56.59L727.32 37.32L727.62 51.5L727.8 37.91L727.94 52.52L728.13 39.23L728.31 57.57L728.52 35.8L728.4 64.4L729 64.4L728.81 55.71L729.05 37.24L729.19 56.4L729.33 37.96L729.62 55.35L729.79 39.65L730.02 57.86L730.18 38.38L730.4 57.92L730.52 38.93L730.72 53.59L730.9 35.75L731.23 56.01L731.37 39.77L731.51 59.54L731.84 38.34L731.97 57.75L732.12 39.3L732.3 55.06L732.51 39.2L732.78 57.55L732.95 38.66L732.7 69.5L733.3 69.5L733.23 58.79L733.42 38.31L733.58 52.8L733.75 36.99L734.01 58.44L734.22 39.42L734.37 58.99L734.6 38.36L734.82 55.41L734.96 38.01L735.18 52.6L735.33 36.93L735.57 55.19L735.74 39.05L735.91 58.02L736.22 36L736 59.4L736.6 59.4L736.39 55.95L736.6 38.07L736.84 51.89L737.02 37.28L737.16 54.27L737.34 37.79L737.58 57.69L737.84 36.94L738.05 52.61L738.25 36.93L738.36 60.31L738.59 36.75L738.72 57.16L738.97 38.3L739.22 57.57L739.32 39.1L739.52 58.44L739.75 36.86L739.93 52.38L740.12 37.04L740.31 53.64L740.56 36.71L740.72 59.09L741.04 37.58L741.1 57.95L741.3 38.52L741.54 53.05L741.84 38L741.7 68.5L742.3 68.5L742.04 57.9L742.14 39.06L742.31 57.98L742.62 38.87L742.74 55.62L743.05 37.02L743.16 51.38L743.38 38.29L743.53 45.96L743.83 35.66L744.05 49.01L744.23 35.7L744.42 47.34L744.56 35.02L744.71 45.88L744.9 37.07L745.19 48.39L745.43 38.23L745.53 46.31L745.76 37.63L745.97 46.06L746.21 36.81L746.31 47.18L746.51 36.85L746.73 48.92L746.99 35.77L747.17 49.55L747.46 36.43L747.59 46.77L747.84 36.53L747.93 49.96L748.11 36.3L748.44 44.79L748.57 37.85L748.72 46.41L748.99 37.57L749.19 45.99L749.35 36.94L749.64 45.18L749.84 38.51L749.98 62.58L750.14 39.27L750.35 56.39L750.65 36.82L750.77 62.12L751 34.54L750.7 57.2L751.3 57.2L751.13 52.93L751.4 37.97L751.66 58.75L751.85 36.48L751.97 59.09L752.15 38.72L752.4 55.34L752.59 37.02L752.83 56.32L752.92 36.97L753.22 58.08L753.46 36.34L753.53 45.46L753.77 36.51L753.98 44.34L754.25 37.37L754.33 44.15L754.51 36.31L754.76 44.58L755.05 36.42L755.14 47.3L755.33 35.23L755.62 49.1L755.71 36.3L756.02 48.31L756.18 35.99L756.38 49.1L756.64 34.96L756.77 45.11L756.99 36.85L757.15 45.81L757.44 37.33L757.64 47.34L757.83 37.37L757.92 46.71L758.18 35.81L758.39 48.52L758.59 36.91L758.86 49.44L758.6 63.5L759.2 63.5L758.94 35.88L759.21 48.93L759.43 34.76L759.57 45.02L759.75 35.98L759.92 49.38L760.23 36.58L760.36 47.09L760.58 36.71L760.76 49.94L760.96 36.07L761.26 50.12L761.42 36.4L761.65 50.13L761.78 36.34L762.04 45.14L762.25 37.27L762.34 45.18L762.66 35.88L762.73 45.87L763 35.99L763.17 47.28L763.43 36.85L763.56 47.35L763.81 36.26L764.02 49.41L764.12 34.35L764.41 49.28L764.6 35.76L764.77 46.89L764.94 35.76L765.13 47.45L765.43 36.68L765.59 49.95L765.86 36.75L765.96 47.86L766.24 34.2L766.34 46.26L766.56 37.17L766.73 50.38L767.05 36.83L767.25 46.47L767.38 35.7L767.57 46.78L767.3 51.9L767.9 51.9L767.85 36.35L767.99 47.39L768.14 35.78L768.4 47.89L768.6 35.71L768.84 49.49L769.03 36.76L769.27 45.73L769.35 35.31L769.67 47.37L769.76 35.94L770.03 50.23L770.19 34.89L770.39 49.61L770.52 35.26L770.76 47.01L771.01 33.87L771.14 44.33L771.38 36.26L771.57 48.43L771.8 36.52L771.95 50.31L772.23 35.45L772.37 49.77L772.53 36.67L772.87 47.1L773.04 35.57L773.24 45.94L773.45 35.28L773.54 50.54L773.74 36.67L773.6 61L774.2 61L773.93 44.67L774.16 35.54L774.44 45.79L774.54 36.3L774.87 47.65L774.99 34.04L775.25 46.89L775.41 35.83L775.61 44.5L775.78 36.26L776.03 50.11L776.19 34.31L776.45 48.21L776.56 34.95L776.73 48.12L777.01 35.33L777.2 44.8"/>
<path stroke="#00ffff" stroke-dasharray="6 5.1" d="M116 263.4L124.41 260.85L132.83 258.3L141.24 255.75L149.66 253.21L158.07 250.66L166.48 248.11L174.9 245.57L183.31 243.02L191.72 240.48L200.14 237.94L208.55 235.39L216.97 232.85L225.38 230.32L233.79 227.78L242.21 225.25L250.62 222.71L259.03 220.18L267.45 217.65L275.86 215.12L284.28 212.59L292.69 210.06L301.1 207.52L309.52 204.98L317.93 202.43L326.34 199.87L334.76 197.3L343.17 194.73L351.59 192.15L360 189.59L360.5 189.44L361 189.29L361.5 189.14L362 188.99L362.5 188.84L363 188.69L363.5 188.54L364 188.39L364.5 188.24L365 188.09L365.5 187.94L366 187.79L366.5 187.64L367 187.5L367.5 187.35L368 187.2L368.5 187.05L369 186.9L369.5 186.76L370 186.61L370.5 186.46L371 186.31L371.5 186.16L372 186.01L372.5 185.86L373 185.7L373.5 185.55L374 185.39L374.5 185.23L375 185.07L375.5 184.91L376 184.74L376.5 184.57L377 184.4L377.5 184.23L378 184.05L378.5 183.87L379 183.68L379.5 183.49L380 183.3L380.5 183.11L381 182.91L381.5 182.7L382 182.49L382.5 182.28L383 182.06L383.5 181.83L384 181.6L384.5 181.36L385 181.12L385.5 180.87L386 180.62L386.5 180.36L387 180.09L387.5 179.82L388 179.53L388.5 179.25L389 178.95L389.5 178.65L390 178.34L390.5 178.02L391 177.7L391.5 177.36L392 177.02L392.5 176.67L393 176.31L393.5 175.95L394 175.57L394.5 175.18L395 174.79L395.5 174.38L396 173.97L396.5 173.54L397 173.11L397.5 172.66L398 172.2L398.5 171.73L399 171.25L399.5 170.76L400 170.25L400.5 169.73L401 169.2L401.5 168.65L402 168.1L402.5 167.53L403 166.95L403.5 166.35L404 165.75L404.5 165.14L405 164.52L405.5 163.9L406 163.26L406.5 162.62L407 161.97L407.5 161.32L408 160.66L408.5 160L409 159.34L409.5 158.67L410 158L410.5 157.33L411 156.66L411.5 155.99L412 155.31L412.5 154.64L413 153.97L413.5 153.3L414 152.63L414.5 151.96L415 151.3L415.5 150.64L416 149.98L416.5 149.33L417 148.69L417.5 148.04L418 147.41L418.5 146.79L419 146.17L419.5 145.56L420 144.96L420.5 144.37L421 143.8L421.5 143.23L422 142.68L422.5 142.14L423 141.62L423.5 141.11L424 140.63L424.5 140.16L425 139.72L425.5 139.29L426 138.9L426.5 138.53L427 138.21L427.5 137.96L428 137.78L428.5 137.7L428.6 137.7L428.68 137.68L428.76 137.67L428.84 137.66L428.92 137.65L429 137.64L429.08 137.64L429.16 137.64L429.24 137.64L429.32 137.64L429.4 137.64L429.48 137.65L429.56 137.66L429.64 137.67L429.72 137.68L429.8 137.7L429.88 137.72L429.96 137.74L430.04 137.77L430.12 137.8L430.2 137.83L430.28 137.87L430.36 137.9L430.44 137.94L430.52 137.99L430.6 138.04L430.68 138.09L430.76 138.14L430.84 138.2L430.92 138.27L431 138.33L431.08 138.4L431.16 138.48L431.24 138.56L431.32 138.64L431.4 138.73L431.48 138.83L431.56 138.93L431.64 139.03L431.72 139.14L431.8 139.26L431.88 139.38L431.96 139.51L432.04 139.64L432.12 139.79L432.2 139.93L432.28 140.09L432.36 140.26L432.44 140.43L432.52 140.61L432.6 140.81L432.68 141.01L432.76 141.22L432.84 141.45L432.92 141.69L433 141.94L433.08 142.2L433.16 142.48L433.24 142.78L433.32 143.09L433.4 143.43L433.48 143.78L433.56 144.17L433.64 144.57L433.72 145.01L433.8 145.48L433.88 145.99L433.96 146.54L434.04 147.14L434.12 147.8L434.2 148.53L434.28 149.34L434.36 150.26L434.44 151.31L434.52 152.52L434.6 153.98L434.68 155.76L434.76 158.08L434.84 161.37L434.92 167.01L435 169.2L435 169.2L435.08 166.92L435.16 161.2L435.24 157.84L435.32 155.45L435.4 153.58L435.48 152.06L435.56 150.77L435.64 149.65L435.72 148.66L435.8 147.77L435.88 146.97L435.96 146.24L436.04 145.57L436.12 144.95L436.2 144.37L436.28 143.83L436.36 143.33L436.44 142.85L436.52 142.41L436.6 141.99L436.68 141.59L436.76 141.21L436.84 140.85L436.92 140.51L437 140.19L437.08 139.88L437.16 139.59L437.24 139.31L437.32 139.04L437.4 138.79L437.48 138.55L437.56 138.32L437.64 138.1L437.72 137.89L437.8 137.69L437.88 137.5L437.96 137.32L438.04 137.15L438.12 136.99L438.2 136.83L438.28 136.69L438.36 136.55L438.44 136.43L438.52 136.31L438.6 136.2L438.68 136.09L438.76 136L438.84 135.91L438.92 135.84L439 135.77L439.08 135.71L439.16 135.65L439.24 135.61L439.32 135.57L439.4 135.55L439.48 135.53L439.56 135.52L439.64 135.52L439.72 135.52L439.8 135.54L439.88 135.57L439.96 135.6L440.04 135.65L440.12 135.71L440.2 135.77L440.28 135.85L440.36 135.94L440.44 136.04L440.52 136.16L440.6 136.28L440.68 136.43L440.76 136.58L440.84 136.75L440.92 136.94L441 137.14L441.08 137.36L441.16 137.61L441.24 137.87L441.32 138.15L441.4 138.46L441.48 138.8L441.56 139.17L441.64 139.57L441.72 140.01L441.8 140.49L441.88 141.01L441.96 141.6L442.04 142.24L442.12 142.96L442.2 143.77L442.28 144.69L442.36 145.76L442.44 147.01L442.52 148.52L442.6 150.4L442.68 152.9L442.76 156.56L442.84 163L442.9 163L442.92 163L443 159.85L443.08 154.99L443.16 151.95L443.24 149.73L443.32 147.97L443.4 146.53L443.48 145.3L443.56 144.24L443.64 143.3L443.72 142.46L443.8 141.71L443.88 141.02L443.96 140.4L444.04 139.82L444.12 139.3L444.2 138.81L444.28 138.36L444.36 137.94L444.44 137.56L444.52 137.2L444.6 136.87L444.68 136.56L444.76 136.28L444.84 136.01L444.92 135.77L445 135.55L445.08 135.35L445.16 135.16L445.24 135L445.32 134.85L445.4 134.72L445.48 134.61L445.56 134.51L445.64 134.43L445.72 134.37L445.8 134.33L445.88 134.3L445.96 134.29L446.04 134.3L446.12 134.32L446.2 134.37L446.28 134.43L446.36 134.51L446.44 134.62L446.52 134.74L446.6 134.89L446.68 135.06L446.76 135.26L446.84 135.49L446.92 135.74L447 136.03L447.08 136.35L447.16 136.7L447.24 137.1L447.32 137.55L447.4 138.05L447.48 138.6L447.56 139.23L447.64 139.94L447.72 140.75L447.8 141.68L447.88 142.76L447.96 144.05L448.04 145.62L448.12 147.62L448.2 150.32L448.28 154.46L448.36 163.43L448.4 174.3L448.44 163.12L448.52 154.08L448.6 149.87L448.68 147.1L448.76 145.04L448.84 143.41L448.92 142.05L449 140.91L449.08 139.92L449.16 139.06L449.24 138.3L449.32 137.63L449.4 137.03L449.48 136.49L449.56 136.01L449.64 135.59L449.72 135.21L449.8 134.87L449.88 134.58L449.96 134.32L450.04 134.1L450.12 133.92L450.2 133.77L450.28 133.66L450.36 133.58L450.44 133.53L450.52 133.52L450.6 133.55L450.68 133.61L450.76 133.7L450.84 133.84L450.92 134.01L451 134.23L451.08 134.5L451.16 134.81L451.24 135.18L451.32 135.61L451.4 136.11L451.48 136.69L451.56 137.36L451.64 138.15L451.72 139.06L451.8 140.15L451.88 141.47L451.96 143.1L452.04 145.21L452.12 148.16L452.2 152.92L452.28 166.08L452.3 176.3L452.36 155.81L452.44 148.85L452.52 145.15L452.6 142.64L452.68 140.76L452.76 139.26L452.84 138.05L452.92 137.03L453 136.18L453.08 135.47L453.16 134.87L453.24 134.36L453.32 133.95L453.4 133.62L453.48 133.36L453.56 133.18L453.64 133.07L453.72 133.03L453.8 133.06L453.88 133.17L453.96 133.35L454 131.81L454.38 153.97L454.9 133.48L455.4 154.51L455.81 133.67L456.27 143.99L456.65 132.87L457.18 143L457.71 133.01L457.5 157.05L458.1 157.05L458.15 140.04L458.59 133.71L458.94 143.34L459.53 131.13L459.97 141.47L460.32 132.64L460.85 161.54L461.21 133.63L461.68 161.54L462.16 133.58L462.59 161.82L463.15 133.41L463.61 162.8L463.99 133.44L464.44 162.17L464.86 132.64L465.31 145.84L465.87 130.17L466.31 145.12L466.67 131.7L467.2 147.37L467.64 131.84L468.17 146.36L468.6 131.45L469.04 141.54L469.49 131.48L470 141.18L470.47 131.8L470.82 138.8L471.26 131.39L471.8 141.64L472.14 130.4L472.64 143.23L473.05 130.45L473.55 143.81L473.96 131.68L474.45 139.52L474.99 130.75L475.46 144L475.5 170.57L476.1 170.57L475.9 131.11L476.32 141.55L476.78 130.77L477.19 142.08L477.62 129.55L478.12 153.02L478.62 132.16L478.97 149.86L479.42 130.91L479.99 151.16L480.37 129.36L480.1 145.76L480.7 145.76L480.89 150.5L481.35 131.06L481.84 150.47L482.21 128.31L482.66 142.99L483.18 131.18L483.63 146.58L484.07 128.89L484.55 146.11L484.98 129.99L485.48 148.59L485.84 127.22L486.36 153.94L486.85 129.8L487.2 155.18L487.7 127.98L488.12 154.46L488.59 128.88L488.98 154.74L489.43 129.08L490 154.19L490.41 127.46L490.89 155.16L491.37 127.88L491.77 154.73L492.22 129.1L492.64 138.59L493.2 127.94L493.66 140.35L494.1 126.2L494.57 140.36L494.99 127.29L495.46 143.44L495.4 149.3L496 149.3L495.83 127.33L496.38 140.89L496.76 127.36L497.24 144.56L497.67 125.7L498.17 148.57L498.64 126.92L499.08 136.7L499.49 126.92L499.93 136.81L500.49 126.26L500.86 135.44L500.7 167.68L501.3 167.68L501.33 126.95L501.73 135.25L502.22 125.09L502.64 132.46L503.14 126.07L503.65 135.49L504.15 126.69L504.55 134.77L504.95 126.76L505.46 135.36L505.91 123.68L506 140.45L506.6 140.45L506.4 136.41L506.81 125.28L507.33 138.6L507.7 123.48L508.14 136.55L508.63 127.06L509.15 138.85L509.57 125.37L509.99 139.83L510.45 124.38L510.93 143.29L511.35 124.36L511.82 145.46L512.34 124.85L512.79 140.66L513.23 124.24L513.57 141.39L513.5 141.85L514.1 141.85L514.1 124.26L514.52 135.08L515.06 124.41L515.42 132.43L515.98 122.51L516.32 132.35L516.2 146.83L516.8 146.83L516.81 123.49L517.35 136.79L517.74 123.6L518.25 134.85L518.65 123L519.05 136.18L519.58 123.2L520.01 131.8L520.46 123.73L520.86 130.8L521 143.64L521.6 143.64L521.31 122.61L521.9 135.18L522.35 121.11L522.81 130.37L523.17 122.36L523.57 131.61L524.11 123.41L524.6 130.35L525.04 121.94L525.4 132.1L525.5 144.09L526.1 144.09L525.88 122.86L526.41 130.33L526.76 122.84L527.34 135.25L527.82 121.92L528.16 134.9L528.58 119.98L529.19 132.84L529.61 121.32L530.01 134.81L530.47 120.02L531 133.93L530.8 157.73L531.4 157.73L531.36 119.69L531.77 129.48L532.31 122.11L532.72 131.82L533.24 120.28L533.73 131.98L534.09 121.81L534.53 128.7L534.96 121.53L535.54 130.48L535.87 120.41L536.47 131.91L536.88 120.2L537.37 130.59L537.3 136.62L537.9 136.62L537.81 120.5L538.16 129.54L538.62 120.24L539.2 128.3L539.55 120.22L540.08 131.32L540.44 119.65L540.91 133.82L541.43 119.56L541.82 131.61L542.35 120.51L542.83 130.27L543.19 119.72L543.3 138.47L543.9 138.47L543.64 130.44L544.06 120.03L544.57 131.67L544.97 119.35L545.51 133.09L545.98 118.35L546.42 133.95L546.88 117.94L547.33 134.83L547.84 117.97L548.23 131.11L548.74 116.64L549.12 134.14L549.54 116.85L549.7 135.06L550.3 135.06L550.01 134.45L550.55 116.06L550.92 127.93L551.46 118.09L551.93 124.89L552.33 116.04L552.72 124.32L553.26 117.55L553.67 125.25L554.21 117.22L554.56 124.72L554.5 150.55L555.1 150.55L555.01 117.96L555.51 132.96L555.97 116.75L556.37 135.64L556.86 115.69L557.36 135.34L557.78 116.46L558.17 135.04L558.69 117.76L559.14 136.01L559.6 117.94L559.99 134.69L560.48 114.96L561.05 134.23L561.49 114.08L561.96 129.79L562.38 114.67L562.78 147.68L563.32 115.78L563.67 147.65L564.18 114.93L564.63 146.19L565.06 115.92L565.49 147.21L565.95 115.2L566.46 147.78L566.86 115.19L567.32 128.91L567.78 114.58L568.23 128.53L568.77 115.86L569.18 130.39L569.55 112.53L570.12 128.02L570.53 115.41L570.5 131L571.1 131L571.03 126.15L571.44 114.36L571.87 125.63L572.41 115.64L572.76 126.86L573.23 114.41L573.72 132.87L574.23 111.73L574.57 124.1L575.06 114.62L575.55 126.58L575.5 144.85L576.1 144.85L576.03 113.28L576.39 123.11L576.95 113.98L577.37 122.33L577.82 113.01L578.25 124.28L578.7 112.58L579.25 121.94L579.72 113.21L580.04 124.68L580 145.76L580.6 145.76L580.5 112.93L581.03 123.76L581.5 112.72L581.97 124.79L582.34 113.14L582.78 129.05L583.21 111.99L583.72 125.27L584.2 110.83L584.71 128.43L585.03 111.71L584.8 136.84L585.4 136.84L585.49 120.9L586.04 109.52L586.49 125.74L586.86 109.8L587.31 122.49L587.76 111.67L588.31 120.36L588.71 110.07L589.16 123.14L589.68 110.73L590.05 120.91L590.57 111.37L590.95 121.72L591.4 108.78L591.96 127.39L592.43 108.65L592.83 127.27L593.28 110.78L593.78 126.84L594.14 110.03L594.62 126.56L595.18 107.93L595.64 120.15L595.95 109.83L596.4 125.13L596.98 110.51L597.38 119.43L597.89 110.4L597.6 161.45L598.2 161.45L598.32 118.62L598.75 110.18L599.25 117.27L599.68 108.75L600.05 118.11L600.57 109.81L601.09 119.59L601.53 109.21L601.97 116.79L602.42 109L602.9 126.78L602.9 125.46L603.5 125.46L603.28 108.17L603.75 122.15L604.24 106.35L604.73 125.12L605.1 108.88L605.53 123.3L605.6 160.4L606.2 160.4L606 109.27L606.49 120.46L606.89 106.56L607.43 120.47L607.92 106.55L608.29 119.41L608.84 108.58L609.21 116.76L609.69 108.39L610.21 120.06L610.63 106.77L610.7 135.72L611.3 135.72L611.05 117.58L611.54 107.81L611.95 118.83L612.45 106.35L612.82 120.41L613.26 107.19L613.8 117.11L614.24 107.23L614.68 115.12L615.08 106.35L614.9 138.57L615.5 138.57L615.67 117.21L615.99 106.4L616.59 114.56L616.94 105.52L617.39 115.33L617.95 106.24L618 132.46L618.6 132.46L618.4 115.46L618.82 104.09L619.31 114.82L619.64 105.5L620.21 113.53L620.63 106.01L621.03 113.27L621.53 105.08L621.91 113.56L622.47 105.77L622.91 115.77L623.28 105.54L623.75 124.99L623.7 139.2L624.3 139.2L624.22 105.01L624.7 118.81L625.12 104.3L625.58 117.45L626.08 105.32L626.47 114.32L626.7 147.1L627.3 147.1L627.02 102.11L627.43 119.36L627.88 105.01L628.36 115.83L628.75 104.95L629.32 114.17L629.65 104.55L630.17 113.27L630.7 103.34L631.02 119.08L631.56 101.37L632.06 119.21L632.52 102.99L632.87 117.98L633 129.27L633.6 129.27L633.37 103.78L633.88 124.13L634.28 102.5L634.78 117.43L635.21 103.64L635.56 116.06L636.06 101.32L636.6 116.76L636.99 102.96L637.44 116.92L637.5 126.57L638.1 126.57L637.87 103.21L638.31 116.74L638.84 102.48L639.25 116.24L639.79 102.98L640.11 117.67L640.7 102.29L641.03 115.68L641.6 101.77L642 113.26L642.5 101.07L642.9 114.14L643.31 101.89L643.89 115.59L644.3 102.23L644.69 110.34L645.2 101.14L645.6 111.29L646.08 101L646.57 111.6L647.03 101.48L647.4 115.5L647.87 100.98L648.37 113.61L648.83 98.89L649.34 113.94L649.75 101.63L650.25 112.77L650.3 136.9L650.9 136.9L650.63 99.61L651.06 110.1L651.53 98.46L651.94 109.99L652.45 99.23L652.95 119.43L653.44 99.34L653.8 114.44L654.33 98.82L654.79 116.07L655.23 98.25L655.73 118.07L656.13 100.77L656.56 116.94L657.03 98.43L657.4 119.97L657.86 98.86L658.39 118.36L658.83 98.79L658.6 125.34L659.2 125.34L659.24 112.41L659.73 98.19L660.23 113.82L660.67 99.5L661.1 113.96L661.62 95.96L661.96 113.36L662.55 96.44L662.97 115.71L663.38 98.8L663.88 117.03L664.38 97.3L664.79 107.9L664.6 132.39L665.2 132.39L665.24 97.59L665.71 110.18L666.19 96.82L666.65 108.93L667 96.86L667.42 109.35L667.91 97.13L667.7 120.7L668.3 120.7L668.38 108.19L668.82 97.13L669.31 108.99L669.84 96.38L670.18 108.07L670.66 97.37L671.19 109.07L671.53 96.04L672.02 114.28L672.51 94.57L673 113.5L673.47 97.82L673.83 111.44L674.39 93.9L674.77 115.41L675.17 95.94L675.63 109.31L675.4 122.33L676 122.33L676.13 96.07L676.65 108.08L676.98 95.12L677.46 107.56L678.01 96.43L678.47 106.18L678.4 117.35L679 117.35L678.83 95.23L679.26 105.13L679.81 95.3L680.29 104.97L680.62 95.46L681.15 104.86L681.55 95.22L682.08 102.94L682 129.7L682.6 129.7L682.45 94.17L682.91 102.7L683.43 94.52L683.95 102.81L684.26 91.98L684.73 108.32L685.2 92.56L685.75 108.34L685.5 120.26L686.1 120.26L686.12 93.78L686.58 108.72L687.06 94.68L687.58 108.18L687.94 94.48L688.43 109.12L688.5 123.17L689.1 123.17L688.89 93.73L689.34 102.46L689.79 93.29L690.3 105.03L690.66 92.93L691.17 106.77L691.56 93.73L692.13 105L692.52 92.2L693.07 101.98L693.47 92.84L693.85 102.23L693.7 108.7L694.3 108.7L694.42 93.47L694.77 101.18L695.28 92.73L695.76 100.71L696.11 92.16L696.58 103.6L697.07 91.42L697.1 133.86L697.7 133.86L697.52 110.7L697.96 91.95L698.41 108.72L698.88 91.72L699.44 107.63L699.81 93.15L700.26 103.63L700.68 92.81L701.13 104.87L701.6 92.44L701.7 113.65L702.3 113.65L702.15 107.79L702.61 90.6L702.95 100.12L703.44 90.35L703.92 102.26L704.37 90.69L704.77 102.84L705.21 90.53L705.78 104.3L705.7 106.42L706.3 106.42L706.13 91.25L706.63 108.17L707.14 90.84L707.58 105.7L707.99 88.44L708.51 107.26L709 89.4L709.37 105.44L709.2 134.44L709.8 134.44L709.89 90.45L710.29 106.86L710.72 89.73L711.27 114.45L711.69 87.48L712.05 112.09L712.57 87.62L713 97.96L713.47 89.78L713.97 98.04L714.35 88.73L714.1 113.77L714.7 113.77L714.85 101.14L715.25 88.74L715.74 99.09L716.26 88.74L716.69 97.14L717.09 87.06L717.53 100.1L718.04 89.37L718.47 101.54L719.01 89.1L719.36 98.51L719.91 86.45L720.26 99.67L720.8 87.79L720.6 109.55L721.2 109.55L721.27 100.86L721.61 87.29L722.11 99.15L722.61 86.84L723.02 96.88L723.42 87L723.98 101.29L724.39 86.6L724.8 96.58L725.23 86.72L725.76 98.12L726.18 84.62L726.72 96.8L727.07 87.26L727.5 98.75L728.1 85.82L728.48 96.77L728.4 112.6L729 112.6L729 85.42L729.41 98.97L729.92 86.53L730.38 100.32L730.7 86.77L731.19 105.66L731.63 87.09L732.21 102.38L732.62 86.1L732.7 117.04L733.3 117.04L733.11 99.89L733.58 86.23L734 106.33L734.47 86.48L734.94 103.33L735.34 84.31L735.83 103.45L736 106.43L736.6 106.43L736.31 84.13L736.68 97.1L737.1 82.36L737.62 93.76L737.98 84.06L738.48 96.06L738.94 84.17L739.47 102.25L739.8 84.03L740.3 104.64L740.75 82.41L741.26 99.13L741.75 84.81L741.7 114.62L742.3 114.62L742.15 96.25L742.66 84.9L743.05 95.82L743.51 82.78L743.94 98.83L744.38 84.35L744.94 100.27L745.35 81.14L745.75 96.45L746.25 82.11L746.69 99.63L747.08 82.85L747.64 96.64L748.13 80L748.54 99.72L748.92 82.98L749.42 94.95L749.84 80.07L750.29 96.02L750.76 80.22L750.7 101.77L751.3 101.77L751.32 95.98L751.76 81.89L752.21 92.48L752.69 81.83L753.01 90.06L753.48 79.65L753.91 92.93L754.36 80.05L754.92 94.62L755.34 79.95L755.82 91.1L756.32 81.32L756.68 91.89L757.13 79.57L757.68 95.94L758.01 80.94L758.6 92.97L758.6 106.53L759.2 106.53L758.97 79.96L759.37 96.45L759.86 78.94L760.29 97.34L760.87 77.95L761.2 91.55L761.65 79.52L762.2 93.28L762.59 78.29L763.06 87.09L763.59 78.29L763.99 89.06L764.49 77.33L764.87 91.3L765.31 78.43L765.75 87.35L766.33 78.09L766.67 88.21L767.12 76.01L767.59 91.09L767.3 92.88L767.9 92.88L768.1 75.69L768.58 90.77L769.01 76.95L769.48 90.18L769.92 76.68L770.41 92.06L770.84 76.62L771.23 89.15L771.71 73.57L772.27 89.16L772.64 75.69L773.13 89.81L773.51 74.75L773.6 100.27L774.2 100.27L774.04 88.13L774.5 75.52L774.87 87.27L775.45 75.1L775.82 86.22L776.26 72.63L776.77 92.46L777.2 75.25"/>
</g>
<g stroke="#333333" stroke-width="1" fill="none">
<rect x="102.5" y="5.55" width="687.6" height="425.7"/>
<path d="M109.39 431.25v-3.4M109.39 5.55v3.4M143.94 431.25v-3.4M143.94 5.55v3.4M213.05 431.25v-3.4M213.05 5.55v3.4M247.6 431.25v-6.8M247.6 5.55v6.8M282.15 431.25v-3.4M282.15 5.55v3.4M316.71 431.25v-3.4M316.71 5.55v3.4M385.81 431.25v-3.4M385.81 5.55v3.4M420.37 431.25v-6.8M420.37 5.55v6.8M454.92 431.25v-3.4M454.92 5.55v3.4M489.47 431.25v-3.4M489.47 5.55v3.4M558.58 431.25v-3.4M558.58 5.55v3.4M593.13 431.25v-6.8M593.13 5.55v6.8M627.68 431.25v-3.4M627.68 5.55v3.4M662.24 431.25v-3.4M662.24 5.55v3.4M731.34 431.25v-3.4M731.34 5.55v3.4M765.89 431.25v-6.8M765.89 5.55v6.8M102.5 421.54h3.4M790.1 421.54h-3.4M102.5 402.65h3.4M790.1 402.65h-3.4M102.5 393.2h6.8M790.1 393.2h-6.8M102.5 383.75h3.4M790.1 383.75h-3.4M102.5 374.31h3.4M790.1 374.31h-3.4M102.5 364.86h3.4M790.1 364.86h-3.4M102.5 345.96h3.4M790.1 345.96h-3.4M102.5 336.51h3.4M790.1 336.51h-3.4M102.5 327.07h3.4M790.1 327.07h-3.4M102.5 317.62h3.4M790.1 317.62h-3.4M102.5 298.73h6.8M790.1 298.73h-6.8M102.5 289.28h3.4M790.1 289.28h-3.4M102.5 279.83h3.4M790.1 279.83h-3.4M102.5 270.38h3.4M790.1 270.38h-3.4M102.5 251.49h3.4M790.1 251.49h-3.4M102.5 242.04h3.4M790.1 242.04h-3.4M102.5 232.59h3.4M790.1 232.59h-3.4M102.5 223.15h3.4M790.1 223.15h-3.4M102.5 204.25h6.8M790.1 204.25h-6.8M102.5 194.8h3.4M790.1 194.8h-3.4M102.5 185.36h3.4M790.1 185.36h-3.4M102.5 175.91h3.4M790.1 175.91h-3.4M102.5 157.01h3.4M790.1 157.01h-3.4M102.5 147.56h3.4M790.1 147.56h-3.4M102.5 138.12h3.4M790.1 138.12h-3.4M102.5 128.67h3.4M790.1 128.67h-3.4M102.5 109.77h6.8M790.1 109.77h-6.8M102.5 100.33h3.4M790.1 100.33h-3.4M102.5 90.88h3.4M790.1 90.88h-3.4M102.5 81.43h3.4M790.1 81.43h-3.4M102.5 62.54h3.4M790.1 62.54h-3.4M102.5 53.09h3.4M790.1 53.09h-3.4M102.5 43.64h3.4M790.1 43.64h-3.4M102.5 34.2h3.4M790.1 34.2h-3.4M102.5 15.3h6.8M790.1 15.3h-6.8"/>
</g>
<text transform="translate(45.5 23.8) scale(0.9678 1.0000)" x="-2.22" y="0" font-size="25.3">10</text>
<text transform="translate(68.9 16) scale(1.0262 1.0000)" x="-0.89" y="0" font-size="17.8">−</text>
<text transform="translate(80.4 14.8) scale(0.9742 1.0000)" x="-1.56" y="0" font-size="17.8">16</text>
<text transform="translate(45.5 118.27) scale(0.9678 1.0000)" x="-2.22" y="0" font-size="25.3">10</text>
<text transform="translate(68.9 110.47) scale(1.0262 1.0000)" x="-0.89" y="0" font-size="17.8">−</text>
<text transform="translate(80.4 109.27) scale(0.9280 1.0000)" x="-0.78" y="0" font-size="17.8">26</text>
<text transform="translate(45.5 212.75) scale(0.9678 1.0000)" x="-2.22" y="0" font-size="25.3">10</text>
<text transform="translate(68.9 204.95) scale(1.0262 1.0000)" x="-0.89" y="0" font-size="17.8">−</text>
<text transform="translate(80.4 203.75) scale(0.9319 1.0000)" x="-0.85" y="0" font-size="17.8">36</text>
<text transform="translate(45.5 307.23) scale(0.9678 1.0000)" x="-2.22" y="0" font-size="25.3">10</text>
<text transform="translate(68.9 299.43) scale(1.0262 1.0000)" x="-0.89" y="0" font-size="17.8">−</text>
<text transform="translate(80.4 298.23) scale(0.9041 1.0000)" x="-0.35" y="0" font-size="17.8">46</text>
<text transform="translate(45.5 401.7) scale(0.9678 1.0000)" x="-2.22" y="0" font-size="25.3">10</text>
<text transform="translate(68.9 393.9) scale(1.0262 1.0000)" x="-0.89" y="0" font-size="17.8">−</text>
<text transform="translate(80.4 392.7) scale(0.9424 1.0000)" x="-1.03" y="0" font-size="17.8">56</text>
<text transform="translate(222.2 459.1) scale(0.9678 1.0000)" x="-2.22" y="0" font-size="25.3">10</text>
<text transform="translate(246.1 450.85) scale(0.9779 1.0000)" x="-0.89" y="0" font-size="17.8">−</text>
<text transform="translate(258.2 449.9) scale(0.8703 1.0000)" x="-1.56" y="0" font-size="17.8">11</text>
<text transform="translate(400.3 458.9) scale(0.9587 1.0000)" x="-2.22" y="0" font-size="25.3">10</text>
<text transform="translate(423.7 450.75) scale(0.9779 1.0000)" x="-0.89" y="0" font-size="17.8">−</text>
<text transform="translate(434.2 449.8) scale(1.0256 1.0000)" x="-0.76" y="0" font-size="17.8">6</text>
<text transform="translate(577.6 453.9) scale(0.9745 1.0000)" x="-0.96" y="0" font-size="25.3">0.1</text>
<text transform="translate(751.4 459) scale(1.0085 1.0000)" x="-2.22" y="0" font-size="25.3">10</text>
<text transform="translate(774.4 449.7) scale(1.0152 1.0000)" x="-0.35" y="0" font-size="17.8">4</text>
<text transform="translate(420.4 491.7) scale(1.0325 1.0000)" x="-0.74" y="0" font-size="24">f(Hz)</text>
<g transform="translate(24.6 268.4) rotate(-90)">
<text transform="translate(0 0) scale(0.9941 1.0000)" x="-1.03" y="0" font-size="23.5">(</text>
<text transform="translate(7.2 0) scale(0.9576 1.0000)" x="-1.24" y="0" font-size="24">Ω</text>
<text transform="translate(24 5.2) scale(0.9614 1.0000)" x="-0.73" y="0" font-size="17">gw</text>
<text transform="translate(46 0) scale(1.0050 1.0000)" x="-0.89" y="0" font-size="24.5" font-style="italic">h</text>
<text transform="translate(58.4 -11.6) scale(1.2326 1.0000)" x="-0.75" y="0" font-size="17">2</text>
<text transform="translate(70.7 0) scale(1.0438 1.0000)" x="-0.76" y="0" font-size="23.5">)</text>
<text transform="translate(77.4 5) scale(1.0202 1.0000)" x="-0.7" y="0" font-size="17">sec</text>
</g>
<text transform="translate(120.1 38.25) scale(1.0146 1.0000)" x="-0.75" y="0" font-size="24.5">for</text>
<text transform="translate(155.3 38.25) scale(1.0839 1.0000)" x="-1.6" y="0" font-size="24.5" font-style="italic">T</text>
<text transform="translate(167.5 42.25) scale(1.0543 1.0000)" x="-0.35" y="0" font-size="17.6">re</text>
<path d="M189.7 31.05H201.9M189.7 35.05H201.9" stroke="#000" stroke-width="1.25" fill="none"/>
<text transform="translate(212.1 38.25) scale(0.8579 1.0000)" x="-2.15" y="0" font-size="24.5">1</text>
<text transform="translate(228.1 38.25) scale(1.0182 1.0000)" x="-1" y="0" font-size="24.5">GeV</text>
<text transform="translate(111.4 63.5) scale(1.0214 1.0000)" x="-0.54" y="0" font-size="18.7">Dashed</text>
<text transform="translate(173.7 63.5) scale(1.0141 1.0000)" x="-0.37" y="0" font-size="18.7">line</text>
<text transform="translate(207 63.5) scale(0.8328 1.0000)" x="-0.82" y="0" font-size="18.7">(</text>
<text transform="translate(210.5 63.5) scale(1.1821 1.0000)" x="-0.64" y="0" font-size="18.7" font-style="italic">ξ</text>
<path d="M224.9 58.25H235M224.9 61.15H235" stroke="#000" stroke-width="1.15" fill="none"/>
<text transform="translate(239.4 63.5) scale(1.0933 1.0000)" x="-0.89" y="0" font-size="18.7">3.0</text>
<text transform="translate(264.6 63.5) scale(0.9161 1.0000)" x="-0.6" y="0" font-size="18.7">)</text>
<text transform="translate(120.3 88.3) scale(0.9944 1.0000)" x="-1.25" y="0" font-size="18.7">Solid</text>
<text transform="translate(165.5 88.3) scale(1.0141 1.0000)" x="-0.37" y="0" font-size="18.7">line</text>
<text transform="translate(198.6 88.3) scale(0.8328 1.0000)" x="-0.82" y="0" font-size="18.7">(</text>
<text transform="translate(202.6 88.3) scale(1.1142 1.0000)" x="-0.64" y="0" font-size="18.7" font-style="italic">ξ</text>
<path d="M216.7 83.05H226.7M216.7 85.95H226.7" stroke="#000" stroke-width="1.15" fill="none"/>
<text transform="translate(231.4 88.3) scale(1.0851 1.0000)" x="-0.89" y="0" font-size="18.7">3.5</text>
<text transform="translate(257 88.3) scale(0.8745 1.0000)" x="-0.6" y="0" font-size="18.7">)</text>
<path d="M128.1 123.3H152.2" stroke="#0000ff" stroke-width="2.2" fill="none"/>
<text transform="translate(163.9 129.2) scale(0.9962 1.0000)" x="-0.65" y="0" font-size="27" font-style="italic">w</text>
<text transform="translate(181.2 133.91) scale(1.2348 0.9358)" x="-0.38" y="0" font-size="16.5" font-style="italic">ϕ</text>
<path d="M192.9 122H207.2M192.9 126H207.2" stroke="#000" stroke-width="1.3" fill="none"/>
<text transform="translate(209.2 129.2) scale(1.0349 1.0000)" x="-1.03" y="0" font-size="27">0.0</text>
<path d="M128.1 166H152.2" stroke="#ff0000" stroke-width="2.2" fill="none"/>
<text transform="translate(163.9 172.15) scale(0.9962 1.0000)" x="-0.65" y="0" font-size="27" font-style="italic">w</text>
<text transform="translate(181.2 176.86) scale(1.2348 0.9358)" x="-0.38" y="0" font-size="16.5" font-style="italic">ϕ</text>
<path d="M192.9 164.95H207.2M192.9 168.95H207.2" stroke="#000" stroke-width="1.3" fill="none"/>
<text transform="translate(211.6 172.15) scale(0.8837 1.0000)" x="-2.37" y="0" font-size="27">1</text>
<path d="M222.9 176.95L232.5 153.45" stroke="#000" stroke-width="1.35" fill="none"/>
<text transform="translate(232.5 172.15) scale(0.9056 1.0000)" x="-1.29" y="0" font-size="27">3</text>
<path d="M128.1 208.7H152.2" stroke="#00ffff" stroke-width="2.2" fill="none"/>
<text transform="translate(163.9 215.1) scale(0.9962 1.0000)" x="-0.65" y="0" font-size="27" font-style="italic">w</text>
<text transform="translate(181.2 219.81) scale(1.2348 0.9358)" x="-0.38" y="0" font-size="16.5" font-style="italic">ϕ</text>
<path d="M192.9 207.9H207.2M192.9 211.9H207.2" stroke="#000" stroke-width="1.3" fill="none"/>
<text transform="translate(211.6 215.1) scale(0.8837 1.0000)" x="-2.37" y="0" font-size="27">1</text>
<path d="M222.9 219.9L232.5 196.4" stroke="#000" stroke-width="1.35" fill="none"/>
<text transform="translate(232 215.1) scale(1.0163 1.0000)" x="-1.19" y="0" font-size="27">2</text>
</svg></body></html>
